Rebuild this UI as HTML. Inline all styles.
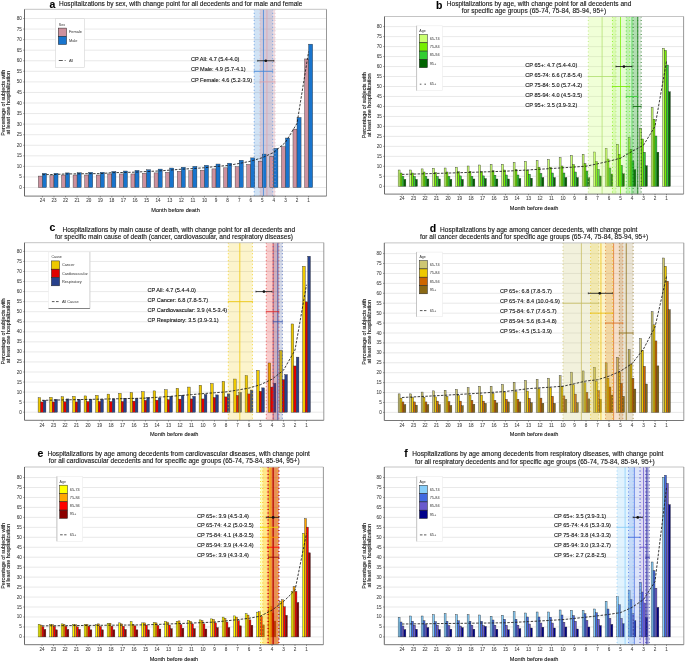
<!DOCTYPE html>
<html><head><meta charset="utf-8"><style>
html,body{margin:0;padding:0;background:#fff;width:685px;height:662px;overflow:hidden}
svg{display:block;will-change:transform}
text{font-family:"Liberation Sans", sans-serif;stroke:#222;stroke-width:0.12px}
</style></head><body>
<svg width="685" height="662" viewBox="0 0 685 662">
<rect width="685" height="662" fill="#fff"/>
<line x1="24.5" x2="326.5" y1="187.5" y2="187.5" stroke="#e3e3e3" stroke-width="0.8"/>
<line x1="24.5" x2="326.5" y1="176.94" y2="176.94" stroke="#e3e3e3" stroke-width="0.8"/>
<line x1="24.5" x2="326.5" y1="166.38" y2="166.38" stroke="#e3e3e3" stroke-width="0.8"/>
<line x1="24.5" x2="326.5" y1="155.81" y2="155.81" stroke="#e3e3e3" stroke-width="0.8"/>
<line x1="24.5" x2="326.5" y1="145.25" y2="145.25" stroke="#e3e3e3" stroke-width="0.8"/>
<line x1="24.5" x2="326.5" y1="134.69" y2="134.69" stroke="#e3e3e3" stroke-width="0.8"/>
<line x1="24.5" x2="326.5" y1="124.12" y2="124.12" stroke="#e3e3e3" stroke-width="0.8"/>
<line x1="24.5" x2="326.5" y1="113.56" y2="113.56" stroke="#e3e3e3" stroke-width="0.8"/>
<line x1="24.5" x2="326.5" y1="103" y2="103" stroke="#e3e3e3" stroke-width="0.8"/>
<line x1="24.5" x2="326.5" y1="92.44" y2="92.44" stroke="#e3e3e3" stroke-width="0.8"/>
<line x1="24.5" x2="326.5" y1="81.88" y2="81.88" stroke="#e3e3e3" stroke-width="0.8"/>
<line x1="24.5" x2="326.5" y1="71.31" y2="71.31" stroke="#e3e3e3" stroke-width="0.8"/>
<line x1="24.5" x2="326.5" y1="60.75" y2="60.75" stroke="#e3e3e3" stroke-width="0.8"/>
<line x1="24.5" x2="326.5" y1="50.19" y2="50.19" stroke="#e3e3e3" stroke-width="0.8"/>
<line x1="24.5" x2="326.5" y1="39.62" y2="39.62" stroke="#e3e3e3" stroke-width="0.8"/>
<line x1="24.5" x2="326.5" y1="29.06" y2="29.06" stroke="#e3e3e3" stroke-width="0.8"/>
<line x1="24.5" x2="326.5" y1="18.5" y2="18.5" stroke="#e3e3e3" stroke-width="0.8"/>
<rect x="254.2" y="9.3" width="18.52" height="186.8" fill="#1874cd" fill-opacity="0.2"/>
<rect x="259.99" y="9.3" width="15.05" height="186.8" fill="#cd919e" fill-opacity="0.3"/>
<rect x="38.35" y="176.07" width="4.05" height="11.43" fill="#cd919e" stroke="#2a2a2a" stroke-width="0.38"/>
<rect x="42.4" y="173.32" width="4.05" height="14.18" fill="#1874cd" stroke="#2a2a2a" stroke-width="0.38"/>
<rect x="49.92" y="175.65" width="4.05" height="11.85" fill="#cd919e" stroke="#2a2a2a" stroke-width="0.38"/>
<rect x="53.97" y="173.32" width="4.05" height="14.18" fill="#1874cd" stroke="#2a2a2a" stroke-width="0.38"/>
<rect x="61.5" y="175.02" width="4.05" height="12.48" fill="#cd919e" stroke="#2a2a2a" stroke-width="0.38"/>
<rect x="65.55" y="172.9" width="4.05" height="14.6" fill="#1874cd" stroke="#2a2a2a" stroke-width="0.38"/>
<rect x="73.07" y="175.02" width="4.05" height="12.48" fill="#cd919e" stroke="#2a2a2a" stroke-width="0.38"/>
<rect x="77.12" y="172.69" width="4.05" height="14.81" fill="#1874cd" stroke="#2a2a2a" stroke-width="0.38"/>
<rect x="84.65" y="175.02" width="4.05" height="12.48" fill="#cd919e" stroke="#2a2a2a" stroke-width="0.38"/>
<rect x="88.7" y="172.27" width="4.05" height="15.23" fill="#1874cd" stroke="#2a2a2a" stroke-width="0.38"/>
<rect x="96.22" y="175.02" width="4.05" height="12.48" fill="#cd919e" stroke="#2a2a2a" stroke-width="0.38"/>
<rect x="100.27" y="172.27" width="4.05" height="15.23" fill="#1874cd" stroke="#2a2a2a" stroke-width="0.38"/>
<rect x="107.79" y="173.96" width="4.05" height="13.54" fill="#cd919e" stroke="#2a2a2a" stroke-width="0.38"/>
<rect x="111.84" y="171.42" width="4.05" height="16.08" fill="#1874cd" stroke="#2a2a2a" stroke-width="0.38"/>
<rect x="119.37" y="173.96" width="4.05" height="13.54" fill="#cd919e" stroke="#2a2a2a" stroke-width="0.38"/>
<rect x="123.42" y="171" width="4.05" height="16.5" fill="#1874cd" stroke="#2a2a2a" stroke-width="0.38"/>
<rect x="130.94" y="173.96" width="4.05" height="13.54" fill="#cd919e" stroke="#2a2a2a" stroke-width="0.38"/>
<rect x="134.99" y="170.37" width="4.05" height="17.13" fill="#1874cd" stroke="#2a2a2a" stroke-width="0.38"/>
<rect x="142.52" y="173.32" width="4.05" height="14.18" fill="#cd919e" stroke="#2a2a2a" stroke-width="0.38"/>
<rect x="146.57" y="169.73" width="4.05" height="17.77" fill="#1874cd" stroke="#2a2a2a" stroke-width="0.38"/>
<rect x="154.09" y="172.9" width="4.05" height="14.6" fill="#cd919e" stroke="#2a2a2a" stroke-width="0.38"/>
<rect x="158.14" y="169.1" width="4.05" height="18.4" fill="#1874cd" stroke="#2a2a2a" stroke-width="0.38"/>
<rect x="165.66" y="172.27" width="4.05" height="15.23" fill="#cd919e" stroke="#2a2a2a" stroke-width="0.38"/>
<rect x="169.71" y="168.04" width="4.05" height="19.46" fill="#1874cd" stroke="#2a2a2a" stroke-width="0.38"/>
<rect x="177.24" y="171.21" width="4.05" height="16.29" fill="#cd919e" stroke="#2a2a2a" stroke-width="0.38"/>
<rect x="181.29" y="167.19" width="4.05" height="20.31" fill="#1874cd" stroke="#2a2a2a" stroke-width="0.38"/>
<rect x="188.81" y="170.79" width="4.05" height="16.71" fill="#cd919e" stroke="#2a2a2a" stroke-width="0.38"/>
<rect x="192.86" y="166.35" width="4.05" height="21.15" fill="#1874cd" stroke="#2a2a2a" stroke-width="0.38"/>
<rect x="200.39" y="170.15" width="4.05" height="17.35" fill="#cd919e" stroke="#2a2a2a" stroke-width="0.38"/>
<rect x="204.44" y="165.29" width="4.05" height="22.21" fill="#1874cd" stroke="#2a2a2a" stroke-width="0.38"/>
<rect x="211.96" y="168.89" width="4.05" height="18.61" fill="#cd919e" stroke="#2a2a2a" stroke-width="0.38"/>
<rect x="216.01" y="164.02" width="4.05" height="23.48" fill="#1874cd" stroke="#2a2a2a" stroke-width="0.38"/>
<rect x="223.53" y="167.83" width="4.05" height="19.67" fill="#cd919e" stroke="#2a2a2a" stroke-width="0.38"/>
<rect x="227.58" y="163.18" width="4.05" height="24.32" fill="#1874cd" stroke="#2a2a2a" stroke-width="0.38"/>
<rect x="235.11" y="166.77" width="4.05" height="20.73" fill="#cd919e" stroke="#2a2a2a" stroke-width="0.38"/>
<rect x="239.16" y="160.22" width="4.05" height="27.28" fill="#1874cd" stroke="#2a2a2a" stroke-width="0.38"/>
<rect x="246.68" y="164.45" width="4.05" height="23.05" fill="#cd919e" stroke="#2a2a2a" stroke-width="0.38"/>
<rect x="250.73" y="157.89" width="4.05" height="29.61" fill="#1874cd" stroke="#2a2a2a" stroke-width="0.38"/>
<rect x="258.26" y="161.27" width="4.05" height="26.23" fill="#cd919e" stroke="#2a2a2a" stroke-width="0.38"/>
<rect x="262.31" y="154.09" width="4.05" height="33.41" fill="#1874cd" stroke="#2a2a2a" stroke-width="0.38"/>
<rect x="269.83" y="156.2" width="4.05" height="31.3" fill="#cd919e" stroke="#2a2a2a" stroke-width="0.38"/>
<rect x="273.88" y="148.38" width="4.05" height="39.12" fill="#1874cd" stroke="#2a2a2a" stroke-width="0.38"/>
<rect x="281.4" y="146.69" width="4.05" height="40.81" fill="#cd919e" stroke="#2a2a2a" stroke-width="0.38"/>
<rect x="285.45" y="138.02" width="4.05" height="49.48" fill="#1874cd" stroke="#2a2a2a" stroke-width="0.38"/>
<rect x="292.98" y="129.14" width="4.05" height="58.36" fill="#cd919e" stroke="#2a2a2a" stroke-width="0.38"/>
<rect x="297.03" y="117.52" width="4.05" height="69.98" fill="#1874cd" stroke="#2a2a2a" stroke-width="0.38"/>
<rect x="304.55" y="58.96" width="4.05" height="128.54" fill="#cd919e" stroke="#2a2a2a" stroke-width="0.38"/>
<rect x="308.6" y="44.16" width="4.05" height="143.34" fill="#1874cd" stroke="#2a2a2a" stroke-width="0.38"/>
<line x1="254.2" x2="254.2" y1="9.3" y2="196.1" stroke="#3c84dc" stroke-width="0.75" stroke-dasharray="1 2.5"/>
<line x1="272.72" x2="272.72" y1="9.3" y2="196.1" stroke="#3c84dc" stroke-width="0.75" stroke-dasharray="1 2.5"/>
<line x1="263.46" x2="263.46" y1="9.3" y2="196.1" stroke="#3c84dc" stroke-width="0.9" stroke-opacity="0.85"/>
<line x1="259.99" x2="259.99" y1="9.3" y2="196.1" stroke="#e0a4ad" stroke-width="0.75" stroke-dasharray="1 2.5"/>
<line x1="275.04" x2="275.04" y1="9.3" y2="196.1" stroke="#e0a4ad" stroke-width="0.75" stroke-dasharray="1 2.5"/>
<line x1="266.94" x2="266.94" y1="9.3" y2="196.1" stroke="#e0a4ad" stroke-width="0.9" stroke-opacity="0.85"/>
<polyline points="42.4,174.7 53.97,174.49 65.55,173.96 77.12,173.85 88.7,173.64 100.27,173.64 111.84,172.69 123.42,172.48 134.99,172.16 146.57,171.53 158.14,171 169.71,170.15 181.29,169.2 192.86,168.57 204.44,167.72 216.01,166.45 227.58,165.5 239.16,163.49 250.73,161.17 262.31,157.68 273.88,152.29 285.45,142.35 297.03,123.33 308.6,51.56" fill="none" stroke="#1a1a1a" stroke-width="0.85" stroke-dasharray="2.5 1.4"/>
<text x="190.9" y="60.9" font-size="5.57" fill="#111">CP All: 4.7 (5.4-4.0)</text>
<line x1="257.68" x2="273.88" y1="60.75" y2="60.75" stroke="#111" stroke-width="0.8"/>
<line x1="257.68" x2="257.68" y1="59.85" y2="61.65" stroke="#111" stroke-width="0.6"/>
<line x1="273.88" x2="273.88" y1="59.85" y2="61.65" stroke="#111" stroke-width="0.6"/>
<circle cx="265.78" cy="60.75" r="1.35" fill="#111"/>
<text x="190.9" y="71.46" font-size="5.57" fill="#111">CP Male: 4.9 (5.7-4.1)</text>
<line x1="254.2" x2="272.72" y1="71.31" y2="71.31" stroke="#3c84dc" stroke-width="0.8"/>
<line x1="254.2" x2="254.2" y1="70.41" y2="72.21" stroke="#3c84dc" stroke-width="0.6"/>
<line x1="272.72" x2="272.72" y1="70.41" y2="72.21" stroke="#3c84dc" stroke-width="0.6"/>
<text x="190.9" y="82.03" font-size="5.57" fill="#111">CP Female: 4.6 (5.2-3.9)</text>
<line x1="259.99" x2="275.04" y1="81.88" y2="81.88" stroke="#e0a4ad" stroke-width="0.8"/>
<line x1="259.99" x2="259.99" y1="80.98" y2="82.78" stroke="#e0a4ad" stroke-width="0.6"/>
<line x1="275.04" x2="275.04" y1="80.98" y2="82.78" stroke="#e0a4ad" stroke-width="0.6"/>
<line x1="24.5" x2="326.5" y1="9.3" y2="9.3" stroke="#bdbdbd" stroke-width="0.9"/>
<line x1="326.5" x2="326.5" y1="9.3" y2="196.1" stroke="#8c8c8c" stroke-width="0.9"/>
<line x1="24.5" x2="24.5" y1="9.3" y2="196.1" stroke="#555" stroke-width="0.9"/>
<line x1="24.5" x2="326.5" y1="196.1" y2="196.1" stroke="#666" stroke-width="0.9"/>
<line x1="23.3" x2="24.5" y1="187.5" y2="187.5" stroke="#444" stroke-width="0.6"/>
<text x="21.9" y="189" font-size="4.6" text-anchor="end" fill="#3a3a3a" style="stroke:#555;stroke-width:0.06px">0</text>
<line x1="23.3" x2="24.5" y1="176.94" y2="176.94" stroke="#444" stroke-width="0.6"/>
<text x="21.9" y="178.44" font-size="4.6" text-anchor="end" fill="#3a3a3a" style="stroke:#555;stroke-width:0.06px">5</text>
<line x1="23.3" x2="24.5" y1="166.38" y2="166.38" stroke="#444" stroke-width="0.6"/>
<text x="21.9" y="167.88" font-size="4.6" text-anchor="end" fill="#3a3a3a" style="stroke:#555;stroke-width:0.06px">10</text>
<line x1="23.3" x2="24.5" y1="155.81" y2="155.81" stroke="#444" stroke-width="0.6"/>
<text x="21.9" y="157.31" font-size="4.6" text-anchor="end" fill="#3a3a3a" style="stroke:#555;stroke-width:0.06px">15</text>
<line x1="23.3" x2="24.5" y1="145.25" y2="145.25" stroke="#444" stroke-width="0.6"/>
<text x="21.9" y="146.75" font-size="4.6" text-anchor="end" fill="#3a3a3a" style="stroke:#555;stroke-width:0.06px">20</text>
<line x1="23.3" x2="24.5" y1="134.69" y2="134.69" stroke="#444" stroke-width="0.6"/>
<text x="21.9" y="136.19" font-size="4.6" text-anchor="end" fill="#3a3a3a" style="stroke:#555;stroke-width:0.06px">25</text>
<line x1="23.3" x2="24.5" y1="124.12" y2="124.12" stroke="#444" stroke-width="0.6"/>
<text x="21.9" y="125.62" font-size="4.6" text-anchor="end" fill="#3a3a3a" style="stroke:#555;stroke-width:0.06px">30</text>
<line x1="23.3" x2="24.5" y1="113.56" y2="113.56" stroke="#444" stroke-width="0.6"/>
<text x="21.9" y="115.06" font-size="4.6" text-anchor="end" fill="#3a3a3a" style="stroke:#555;stroke-width:0.06px">35</text>
<line x1="23.3" x2="24.5" y1="103" y2="103" stroke="#444" stroke-width="0.6"/>
<text x="21.9" y="104.5" font-size="4.6" text-anchor="end" fill="#3a3a3a" style="stroke:#555;stroke-width:0.06px">40</text>
<line x1="23.3" x2="24.5" y1="92.44" y2="92.44" stroke="#444" stroke-width="0.6"/>
<text x="21.9" y="93.94" font-size="4.6" text-anchor="end" fill="#3a3a3a" style="stroke:#555;stroke-width:0.06px">45</text>
<line x1="23.3" x2="24.5" y1="81.88" y2="81.88" stroke="#444" stroke-width="0.6"/>
<text x="21.9" y="83.38" font-size="4.6" text-anchor="end" fill="#3a3a3a" style="stroke:#555;stroke-width:0.06px">50</text>
<line x1="23.3" x2="24.5" y1="71.31" y2="71.31" stroke="#444" stroke-width="0.6"/>
<text x="21.9" y="72.81" font-size="4.6" text-anchor="end" fill="#3a3a3a" style="stroke:#555;stroke-width:0.06px">55</text>
<line x1="23.3" x2="24.5" y1="60.75" y2="60.75" stroke="#444" stroke-width="0.6"/>
<text x="21.9" y="62.25" font-size="4.6" text-anchor="end" fill="#3a3a3a" style="stroke:#555;stroke-width:0.06px">60</text>
<line x1="23.3" x2="24.5" y1="50.19" y2="50.19" stroke="#444" stroke-width="0.6"/>
<text x="21.9" y="51.69" font-size="4.6" text-anchor="end" fill="#3a3a3a" style="stroke:#555;stroke-width:0.06px">65</text>
<line x1="23.3" x2="24.5" y1="39.62" y2="39.62" stroke="#444" stroke-width="0.6"/>
<text x="21.9" y="41.12" font-size="4.6" text-anchor="end" fill="#3a3a3a" style="stroke:#555;stroke-width:0.06px">70</text>
<line x1="23.3" x2="24.5" y1="29.06" y2="29.06" stroke="#444" stroke-width="0.6"/>
<text x="21.9" y="30.56" font-size="4.6" text-anchor="end" fill="#3a3a3a" style="stroke:#555;stroke-width:0.06px">75</text>
<line x1="23.3" x2="24.5" y1="18.5" y2="18.5" stroke="#444" stroke-width="0.6"/>
<text x="21.9" y="20" font-size="4.6" text-anchor="end" fill="#3a3a3a" style="stroke:#555;stroke-width:0.06px">80</text>
<line x1="42.4" x2="42.4" y1="196.1" y2="197.3" stroke="#444" stroke-width="0.6"/>
<text x="42.4" y="202.4" font-size="4.6" text-anchor="middle" fill="#3a3a3a" style="stroke:#555;stroke-width:0.06px">24</text>
<line x1="53.97" x2="53.97" y1="196.1" y2="197.3" stroke="#444" stroke-width="0.6"/>
<text x="53.97" y="202.4" font-size="4.6" text-anchor="middle" fill="#3a3a3a" style="stroke:#555;stroke-width:0.06px">23</text>
<line x1="65.55" x2="65.55" y1="196.1" y2="197.3" stroke="#444" stroke-width="0.6"/>
<text x="65.55" y="202.4" font-size="4.6" text-anchor="middle" fill="#3a3a3a" style="stroke:#555;stroke-width:0.06px">22</text>
<line x1="77.12" x2="77.12" y1="196.1" y2="197.3" stroke="#444" stroke-width="0.6"/>
<text x="77.12" y="202.4" font-size="4.6" text-anchor="middle" fill="#3a3a3a" style="stroke:#555;stroke-width:0.06px">21</text>
<line x1="88.7" x2="88.7" y1="196.1" y2="197.3" stroke="#444" stroke-width="0.6"/>
<text x="88.7" y="202.4" font-size="4.6" text-anchor="middle" fill="#3a3a3a" style="stroke:#555;stroke-width:0.06px">20</text>
<line x1="100.27" x2="100.27" y1="196.1" y2="197.3" stroke="#444" stroke-width="0.6"/>
<text x="100.27" y="202.4" font-size="4.6" text-anchor="middle" fill="#3a3a3a" style="stroke:#555;stroke-width:0.06px">19</text>
<line x1="111.84" x2="111.84" y1="196.1" y2="197.3" stroke="#444" stroke-width="0.6"/>
<text x="111.84" y="202.4" font-size="4.6" text-anchor="middle" fill="#3a3a3a" style="stroke:#555;stroke-width:0.06px">18</text>
<line x1="123.42" x2="123.42" y1="196.1" y2="197.3" stroke="#444" stroke-width="0.6"/>
<text x="123.42" y="202.4" font-size="4.6" text-anchor="middle" fill="#3a3a3a" style="stroke:#555;stroke-width:0.06px">17</text>
<line x1="134.99" x2="134.99" y1="196.1" y2="197.3" stroke="#444" stroke-width="0.6"/>
<text x="134.99" y="202.4" font-size="4.6" text-anchor="middle" fill="#3a3a3a" style="stroke:#555;stroke-width:0.06px">16</text>
<line x1="146.57" x2="146.57" y1="196.1" y2="197.3" stroke="#444" stroke-width="0.6"/>
<text x="146.57" y="202.4" font-size="4.6" text-anchor="middle" fill="#3a3a3a" style="stroke:#555;stroke-width:0.06px">15</text>
<line x1="158.14" x2="158.14" y1="196.1" y2="197.3" stroke="#444" stroke-width="0.6"/>
<text x="158.14" y="202.4" font-size="4.6" text-anchor="middle" fill="#3a3a3a" style="stroke:#555;stroke-width:0.06px">14</text>
<line x1="169.71" x2="169.71" y1="196.1" y2="197.3" stroke="#444" stroke-width="0.6"/>
<text x="169.71" y="202.4" font-size="4.6" text-anchor="middle" fill="#3a3a3a" style="stroke:#555;stroke-width:0.06px">13</text>
<line x1="181.29" x2="181.29" y1="196.1" y2="197.3" stroke="#444" stroke-width="0.6"/>
<text x="181.29" y="202.4" font-size="4.6" text-anchor="middle" fill="#3a3a3a" style="stroke:#555;stroke-width:0.06px">12</text>
<line x1="192.86" x2="192.86" y1="196.1" y2="197.3" stroke="#444" stroke-width="0.6"/>
<text x="192.86" y="202.4" font-size="4.6" text-anchor="middle" fill="#3a3a3a" style="stroke:#555;stroke-width:0.06px">11</text>
<line x1="204.44" x2="204.44" y1="196.1" y2="197.3" stroke="#444" stroke-width="0.6"/>
<text x="204.44" y="202.4" font-size="4.6" text-anchor="middle" fill="#3a3a3a" style="stroke:#555;stroke-width:0.06px">10</text>
<line x1="216.01" x2="216.01" y1="196.1" y2="197.3" stroke="#444" stroke-width="0.6"/>
<text x="216.01" y="202.4" font-size="4.6" text-anchor="middle" fill="#3a3a3a" style="stroke:#555;stroke-width:0.06px">9</text>
<line x1="227.58" x2="227.58" y1="196.1" y2="197.3" stroke="#444" stroke-width="0.6"/>
<text x="227.58" y="202.4" font-size="4.6" text-anchor="middle" fill="#3a3a3a" style="stroke:#555;stroke-width:0.06px">8</text>
<line x1="239.16" x2="239.16" y1="196.1" y2="197.3" stroke="#444" stroke-width="0.6"/>
<text x="239.16" y="202.4" font-size="4.6" text-anchor="middle" fill="#3a3a3a" style="stroke:#555;stroke-width:0.06px">7</text>
<line x1="250.73" x2="250.73" y1="196.1" y2="197.3" stroke="#444" stroke-width="0.6"/>
<text x="250.73" y="202.4" font-size="4.6" text-anchor="middle" fill="#3a3a3a" style="stroke:#555;stroke-width:0.06px">6</text>
<line x1="262.31" x2="262.31" y1="196.1" y2="197.3" stroke="#444" stroke-width="0.6"/>
<text x="262.31" y="202.4" font-size="4.6" text-anchor="middle" fill="#3a3a3a" style="stroke:#555;stroke-width:0.06px">5</text>
<line x1="273.88" x2="273.88" y1="196.1" y2="197.3" stroke="#444" stroke-width="0.6"/>
<text x="273.88" y="202.4" font-size="4.6" text-anchor="middle" fill="#3a3a3a" style="stroke:#555;stroke-width:0.06px">4</text>
<line x1="285.45" x2="285.45" y1="196.1" y2="197.3" stroke="#444" stroke-width="0.6"/>
<text x="285.45" y="202.4" font-size="4.6" text-anchor="middle" fill="#3a3a3a" style="stroke:#555;stroke-width:0.06px">3</text>
<line x1="297.03" x2="297.03" y1="196.1" y2="197.3" stroke="#444" stroke-width="0.6"/>
<text x="297.03" y="202.4" font-size="4.6" text-anchor="middle" fill="#3a3a3a" style="stroke:#555;stroke-width:0.06px">2</text>
<line x1="308.6" x2="308.6" y1="196.1" y2="197.3" stroke="#444" stroke-width="0.6"/>
<text x="308.6" y="202.4" font-size="4.6" text-anchor="middle" fill="#3a3a3a" style="stroke:#555;stroke-width:0.06px">1</text>
<text x="175.5" y="211.9" font-size="5.6" text-anchor="middle" fill="#222">Month before death</text>
<text transform="translate(4.6,102.7) rotate(-90)" font-size="5.4" text-anchor="middle" fill="#222"><tspan x="0" y="0">Percentage of subjects with</tspan><tspan x="0" y="5.8">at least one hospitalization</tspan></text>
<text x="59" y="6.1" font-size="6.55" fill="#111">Hospitalizations by sex, with change point for all decedents and for male and female</text>
<text x="49.6" y="7.6" font-size="10.5" font-weight="bold" fill="#000">a</text>
<rect x="55.6" y="18.7" width="28.9" height="48.8" fill="#fff" stroke="#d4d4d4" stroke-width="0.6"/>
<text x="58.8" y="25.9" font-size="3.6" fill="#333" style="stroke:none">Sex</text>
<rect x="58.3" y="28.1" width="8.3" height="8.2" fill="#cd919e" stroke="#222" stroke-width="0.5"/>
<text x="68.9" y="33.4" font-size="3.9" fill="#333" style="stroke:none">Female</text>
<rect x="58.3" y="36.3" width="8.3" height="8.2" fill="#1874cd" stroke="#222" stroke-width="0.5"/>
<text x="68.9" y="41.6" font-size="3.9" fill="#333" style="stroke:none">Male</text>
<line x1="58.8" x2="65.6" y1="60.5" y2="60.5" stroke="#111" stroke-width="0.7" stroke-dasharray="4 1.9 1.2 6"/>
<text x="68.9" y="61.7" font-size="3.9" fill="#333" style="stroke:none">All</text>
<line x1="384.5" x2="683.6" y1="186.3" y2="186.3" stroke="#e3e3e3" stroke-width="0.8"/>
<line x1="384.5" x2="683.6" y1="176.32" y2="176.32" stroke="#e3e3e3" stroke-width="0.8"/>
<line x1="384.5" x2="683.6" y1="166.34" y2="166.34" stroke="#e3e3e3" stroke-width="0.8"/>
<line x1="384.5" x2="683.6" y1="156.36" y2="156.36" stroke="#e3e3e3" stroke-width="0.8"/>
<line x1="384.5" x2="683.6" y1="146.38" y2="146.38" stroke="#e3e3e3" stroke-width="0.8"/>
<line x1="384.5" x2="683.6" y1="136.4" y2="136.4" stroke="#e3e3e3" stroke-width="0.8"/>
<line x1="384.5" x2="683.6" y1="126.42" y2="126.42" stroke="#e3e3e3" stroke-width="0.8"/>
<line x1="384.5" x2="683.6" y1="116.44" y2="116.44" stroke="#e3e3e3" stroke-width="0.8"/>
<line x1="384.5" x2="683.6" y1="106.46" y2="106.46" stroke="#e3e3e3" stroke-width="0.8"/>
<line x1="384.5" x2="683.6" y1="96.48" y2="96.48" stroke="#e3e3e3" stroke-width="0.8"/>
<line x1="384.5" x2="683.6" y1="86.5" y2="86.5" stroke="#e3e3e3" stroke-width="0.8"/>
<line x1="384.5" x2="683.6" y1="76.52" y2="76.52" stroke="#e3e3e3" stroke-width="0.8"/>
<line x1="384.5" x2="683.6" y1="66.54" y2="66.54" stroke="#e3e3e3" stroke-width="0.8"/>
<line x1="384.5" x2="683.6" y1="56.56" y2="56.56" stroke="#e3e3e3" stroke-width="0.8"/>
<line x1="384.5" x2="683.6" y1="46.58" y2="46.58" stroke="#e3e3e3" stroke-width="0.8"/>
<line x1="384.5" x2="683.6" y1="36.6" y2="36.6" stroke="#e3e3e3" stroke-width="0.8"/>
<line x1="384.5" x2="683.6" y1="26.62" y2="26.62" stroke="#e3e3e3" stroke-width="0.8"/>
<rect x="398.15" y="170" width="1.93" height="16.3" fill="#caff70" stroke="#2a2a2a" stroke-width="0.38"/>
<rect x="400.07" y="173" width="1.93" height="13.3" fill="#76ee00" stroke="#2a2a2a" stroke-width="0.38"/>
<rect x="402" y="176.4" width="1.93" height="9.9" fill="#32cd32" stroke="#2a2a2a" stroke-width="0.38"/>
<rect x="403.92" y="179.4" width="1.93" height="6.9" fill="#006400" stroke="#2a2a2a" stroke-width="0.38"/>
<rect x="409.65" y="170" width="1.93" height="16.3" fill="#caff70" stroke="#2a2a2a" stroke-width="0.38"/>
<rect x="411.57" y="173" width="1.93" height="13.3" fill="#76ee00" stroke="#2a2a2a" stroke-width="0.38"/>
<rect x="413.5" y="176.4" width="1.93" height="9.9" fill="#32cd32" stroke="#2a2a2a" stroke-width="0.38"/>
<rect x="415.42" y="179.4" width="1.93" height="6.9" fill="#006400" stroke="#2a2a2a" stroke-width="0.38"/>
<rect x="421.15" y="168.9" width="1.93" height="17.4" fill="#caff70" stroke="#2a2a2a" stroke-width="0.38"/>
<rect x="423.07" y="172" width="1.93" height="14.3" fill="#76ee00" stroke="#2a2a2a" stroke-width="0.38"/>
<rect x="425" y="176.4" width="1.93" height="9.9" fill="#32cd32" stroke="#2a2a2a" stroke-width="0.38"/>
<rect x="426.92" y="179" width="1.93" height="7.3" fill="#006400" stroke="#2a2a2a" stroke-width="0.38"/>
<rect x="432.65" y="168.2" width="1.93" height="18.1" fill="#caff70" stroke="#2a2a2a" stroke-width="0.38"/>
<rect x="434.57" y="172.4" width="1.93" height="13.9" fill="#76ee00" stroke="#2a2a2a" stroke-width="0.38"/>
<rect x="436.5" y="176.4" width="1.93" height="9.9" fill="#32cd32" stroke="#2a2a2a" stroke-width="0.38"/>
<rect x="438.42" y="179" width="1.93" height="7.3" fill="#006400" stroke="#2a2a2a" stroke-width="0.38"/>
<rect x="444.15" y="168" width="1.93" height="18.3" fill="#caff70" stroke="#2a2a2a" stroke-width="0.38"/>
<rect x="446.07" y="172" width="1.93" height="14.3" fill="#76ee00" stroke="#2a2a2a" stroke-width="0.38"/>
<rect x="448" y="176.4" width="1.93" height="9.9" fill="#32cd32" stroke="#2a2a2a" stroke-width="0.38"/>
<rect x="449.92" y="179.4" width="1.93" height="6.9" fill="#006400" stroke="#2a2a2a" stroke-width="0.38"/>
<rect x="455.65" y="167.2" width="1.93" height="19.1" fill="#caff70" stroke="#2a2a2a" stroke-width="0.38"/>
<rect x="457.57" y="171.6" width="1.93" height="14.7" fill="#76ee00" stroke="#2a2a2a" stroke-width="0.38"/>
<rect x="459.5" y="175.9" width="1.93" height="10.4" fill="#32cd32" stroke="#2a2a2a" stroke-width="0.38"/>
<rect x="461.42" y="179.4" width="1.93" height="6.9" fill="#006400" stroke="#2a2a2a" stroke-width="0.38"/>
<rect x="467.15" y="166" width="1.93" height="20.3" fill="#caff70" stroke="#2a2a2a" stroke-width="0.38"/>
<rect x="469.07" y="171.2" width="1.93" height="15.1" fill="#76ee00" stroke="#2a2a2a" stroke-width="0.38"/>
<rect x="471" y="176.4" width="1.93" height="9.9" fill="#32cd32" stroke="#2a2a2a" stroke-width="0.38"/>
<rect x="472.92" y="179" width="1.93" height="7.3" fill="#006400" stroke="#2a2a2a" stroke-width="0.38"/>
<rect x="478.65" y="165" width="1.93" height="21.3" fill="#caff70" stroke="#2a2a2a" stroke-width="0.38"/>
<rect x="480.57" y="171.6" width="1.93" height="14.7" fill="#76ee00" stroke="#2a2a2a" stroke-width="0.38"/>
<rect x="482.5" y="175.9" width="1.93" height="10.4" fill="#32cd32" stroke="#2a2a2a" stroke-width="0.38"/>
<rect x="484.42" y="178.6" width="1.93" height="7.7" fill="#006400" stroke="#2a2a2a" stroke-width="0.38"/>
<rect x="490.15" y="164.4" width="1.93" height="21.9" fill="#caff70" stroke="#2a2a2a" stroke-width="0.38"/>
<rect x="492.07" y="170.6" width="1.93" height="15.7" fill="#76ee00" stroke="#2a2a2a" stroke-width="0.38"/>
<rect x="494" y="175.2" width="1.93" height="11.1" fill="#32cd32" stroke="#2a2a2a" stroke-width="0.38"/>
<rect x="495.92" y="179" width="1.93" height="7.3" fill="#006400" stroke="#2a2a2a" stroke-width="0.38"/>
<rect x="501.65" y="164.2" width="1.93" height="22.1" fill="#caff70" stroke="#2a2a2a" stroke-width="0.38"/>
<rect x="503.57" y="170" width="1.93" height="16.3" fill="#76ee00" stroke="#2a2a2a" stroke-width="0.38"/>
<rect x="505.5" y="175" width="1.93" height="11.3" fill="#32cd32" stroke="#2a2a2a" stroke-width="0.38"/>
<rect x="507.42" y="179" width="1.93" height="7.3" fill="#006400" stroke="#2a2a2a" stroke-width="0.38"/>
<rect x="513.15" y="162.4" width="1.93" height="23.9" fill="#caff70" stroke="#2a2a2a" stroke-width="0.38"/>
<rect x="515.07" y="169.4" width="1.93" height="16.9" fill="#76ee00" stroke="#2a2a2a" stroke-width="0.38"/>
<rect x="517" y="175" width="1.93" height="11.3" fill="#32cd32" stroke="#2a2a2a" stroke-width="0.38"/>
<rect x="518.92" y="178.6" width="1.93" height="7.7" fill="#006400" stroke="#2a2a2a" stroke-width="0.38"/>
<rect x="524.65" y="161.2" width="1.93" height="25.1" fill="#caff70" stroke="#2a2a2a" stroke-width="0.38"/>
<rect x="526.57" y="170.2" width="1.93" height="16.1" fill="#76ee00" stroke="#2a2a2a" stroke-width="0.38"/>
<rect x="528.5" y="174.2" width="1.93" height="12.1" fill="#32cd32" stroke="#2a2a2a" stroke-width="0.38"/>
<rect x="530.42" y="178.2" width="1.93" height="8.1" fill="#006400" stroke="#2a2a2a" stroke-width="0.38"/>
<rect x="536.15" y="160.4" width="1.93" height="25.9" fill="#caff70" stroke="#2a2a2a" stroke-width="0.38"/>
<rect x="538.07" y="167.2" width="1.93" height="19.1" fill="#76ee00" stroke="#2a2a2a" stroke-width="0.38"/>
<rect x="540" y="173.4" width="1.93" height="12.9" fill="#32cd32" stroke="#2a2a2a" stroke-width="0.38"/>
<rect x="541.92" y="177.6" width="1.93" height="8.7" fill="#006400" stroke="#2a2a2a" stroke-width="0.38"/>
<rect x="547.65" y="159.4" width="1.93" height="26.9" fill="#caff70" stroke="#2a2a2a" stroke-width="0.38"/>
<rect x="549.57" y="167.2" width="1.93" height="19.1" fill="#76ee00" stroke="#2a2a2a" stroke-width="0.38"/>
<rect x="551.5" y="173" width="1.93" height="13.3" fill="#32cd32" stroke="#2a2a2a" stroke-width="0.38"/>
<rect x="553.42" y="177.6" width="1.93" height="8.7" fill="#006400" stroke="#2a2a2a" stroke-width="0.38"/>
<rect x="559.15" y="157.6" width="1.93" height="28.7" fill="#caff70" stroke="#2a2a2a" stroke-width="0.38"/>
<rect x="561.07" y="166" width="1.93" height="20.3" fill="#76ee00" stroke="#2a2a2a" stroke-width="0.38"/>
<rect x="563" y="173" width="1.93" height="13.3" fill="#32cd32" stroke="#2a2a2a" stroke-width="0.38"/>
<rect x="564.92" y="177.6" width="1.93" height="8.7" fill="#006400" stroke="#2a2a2a" stroke-width="0.38"/>
<rect x="570.65" y="155.4" width="1.93" height="30.9" fill="#caff70" stroke="#2a2a2a" stroke-width="0.38"/>
<rect x="572.57" y="164.6" width="1.93" height="21.7" fill="#76ee00" stroke="#2a2a2a" stroke-width="0.38"/>
<rect x="574.5" y="172" width="1.93" height="14.3" fill="#32cd32" stroke="#2a2a2a" stroke-width="0.38"/>
<rect x="576.42" y="177.6" width="1.93" height="8.7" fill="#006400" stroke="#2a2a2a" stroke-width="0.38"/>
<rect x="582.15" y="154.2" width="1.93" height="32.1" fill="#caff70" stroke="#2a2a2a" stroke-width="0.38"/>
<rect x="584.07" y="163.6" width="1.93" height="22.7" fill="#76ee00" stroke="#2a2a2a" stroke-width="0.38"/>
<rect x="586" y="171" width="1.93" height="15.3" fill="#32cd32" stroke="#2a2a2a" stroke-width="0.38"/>
<rect x="587.92" y="177.8" width="1.93" height="8.5" fill="#006400" stroke="#2a2a2a" stroke-width="0.38"/>
<rect x="593.65" y="152" width="1.93" height="34.3" fill="#caff70" stroke="#2a2a2a" stroke-width="0.38"/>
<rect x="595.57" y="161.6" width="1.93" height="24.7" fill="#76ee00" stroke="#2a2a2a" stroke-width="0.38"/>
<rect x="597.5" y="169.2" width="1.93" height="17.1" fill="#32cd32" stroke="#2a2a2a" stroke-width="0.38"/>
<rect x="599.42" y="176" width="1.93" height="10.3" fill="#006400" stroke="#2a2a2a" stroke-width="0.38"/>
<rect x="605.15" y="148.2" width="1.93" height="38.1" fill="#caff70" stroke="#2a2a2a" stroke-width="0.38"/>
<rect x="607.07" y="159" width="1.93" height="27.3" fill="#76ee00" stroke="#2a2a2a" stroke-width="0.38"/>
<rect x="609" y="168" width="1.93" height="18.3" fill="#32cd32" stroke="#2a2a2a" stroke-width="0.38"/>
<rect x="610.92" y="174" width="1.93" height="12.3" fill="#006400" stroke="#2a2a2a" stroke-width="0.38"/>
<rect x="616.65" y="144.2" width="1.93" height="42.1" fill="#caff70" stroke="#2a2a2a" stroke-width="0.38"/>
<rect x="618.57" y="154.4" width="1.93" height="31.9" fill="#76ee00" stroke="#2a2a2a" stroke-width="0.38"/>
<rect x="620.5" y="165.2" width="1.93" height="21.1" fill="#32cd32" stroke="#2a2a2a" stroke-width="0.38"/>
<rect x="622.42" y="173.8" width="1.93" height="12.5" fill="#006400" stroke="#2a2a2a" stroke-width="0.38"/>
<rect x="628.15" y="137.6" width="1.93" height="48.7" fill="#caff70" stroke="#2a2a2a" stroke-width="0.38"/>
<rect x="630.07" y="149.2" width="1.93" height="37.1" fill="#76ee00" stroke="#2a2a2a" stroke-width="0.38"/>
<rect x="632" y="161.2" width="1.93" height="25.1" fill="#32cd32" stroke="#2a2a2a" stroke-width="0.38"/>
<rect x="633.92" y="169.8" width="1.93" height="16.5" fill="#006400" stroke="#2a2a2a" stroke-width="0.38"/>
<rect x="639.65" y="128.4" width="1.93" height="57.9" fill="#caff70" stroke="#2a2a2a" stroke-width="0.38"/>
<rect x="641.57" y="139" width="1.93" height="47.3" fill="#76ee00" stroke="#2a2a2a" stroke-width="0.38"/>
<rect x="643.5" y="152.2" width="1.93" height="34.1" fill="#32cd32" stroke="#2a2a2a" stroke-width="0.38"/>
<rect x="645.42" y="165.8" width="1.93" height="20.5" fill="#006400" stroke="#2a2a2a" stroke-width="0.38"/>
<rect x="651.15" y="107.4" width="1.93" height="78.9" fill="#caff70" stroke="#2a2a2a" stroke-width="0.38"/>
<rect x="653.07" y="119.2" width="1.93" height="67.1" fill="#76ee00" stroke="#2a2a2a" stroke-width="0.38"/>
<rect x="655" y="136" width="1.93" height="50.3" fill="#32cd32" stroke="#2a2a2a" stroke-width="0.38"/>
<rect x="656.92" y="152.2" width="1.93" height="34.1" fill="#006400" stroke="#2a2a2a" stroke-width="0.38"/>
<rect x="662.65" y="48.2" width="1.93" height="138.1" fill="#caff70" stroke="#2a2a2a" stroke-width="0.38"/>
<rect x="664.57" y="50.4" width="1.93" height="135.9" fill="#76ee00" stroke="#2a2a2a" stroke-width="0.38"/>
<rect x="666.5" y="65" width="1.93" height="121.3" fill="#32cd32" stroke="#2a2a2a" stroke-width="0.38"/>
<rect x="668.42" y="91.8" width="1.93" height="94.5" fill="#006400" stroke="#2a2a2a" stroke-width="0.38"/>
<rect x="588.3" y="16.5" width="27.6" height="177.6" fill="#caff70" fill-opacity="0.28"/>
<rect x="612.45" y="16.5" width="17.25" height="177.6" fill="#76ee00" fill-opacity="0.18"/>
<rect x="626.25" y="16.5" width="11.5" height="177.6" fill="#32cd32" fill-opacity="0.22"/>
<rect x="633.15" y="16.5" width="8.05" height="177.6" fill="#006400" fill-opacity="0.15"/>
<line x1="588.3" x2="588.3" y1="16.5" y2="194.1" stroke="#b0e070" stroke-width="0.75" stroke-dasharray="1 2.5"/>
<line x1="615.9" x2="615.9" y1="16.5" y2="194.1" stroke="#b0e070" stroke-width="0.75" stroke-dasharray="1 2.5"/>
<line x1="602.1" x2="602.1" y1="16.5" y2="194.1" stroke="#b0e070" stroke-width="0.9" stroke-opacity="0.85"/>
<line x1="612.45" x2="612.45" y1="16.5" y2="194.1" stroke="#76ee00" stroke-width="0.75" stroke-dasharray="1 2.5"/>
<line x1="629.7" x2="629.7" y1="16.5" y2="194.1" stroke="#76ee00" stroke-width="0.75" stroke-dasharray="1 2.5"/>
<line x1="620.5" x2="620.5" y1="16.5" y2="194.1" stroke="#76ee00" stroke-width="0.9" stroke-opacity="0.85"/>
<line x1="626.25" x2="626.25" y1="16.5" y2="194.1" stroke="#32cd32" stroke-width="0.75" stroke-dasharray="1 2.5"/>
<line x1="637.75" x2="637.75" y1="16.5" y2="194.1" stroke="#32cd32" stroke-width="0.75" stroke-dasharray="1 2.5"/>
<line x1="632" x2="632" y1="16.5" y2="194.1" stroke="#32cd32" stroke-width="0.9" stroke-opacity="0.85"/>
<line x1="633.15" x2="633.15" y1="16.5" y2="194.1" stroke="#006400" stroke-width="0.75" stroke-dasharray="1 2.5"/>
<line x1="641.2" x2="641.2" y1="16.5" y2="194.1" stroke="#006400" stroke-width="0.75" stroke-dasharray="1 2.5"/>
<line x1="637.75" x2="637.75" y1="16.5" y2="194.1" stroke="#006400" stroke-width="0.9" stroke-opacity="0.85"/>
<polyline points="402,174.4 413.5,174.08 425,173.75 436.5,173.42 448,173.07 459.5,172.72 471,172.35 482.5,171.98 494,171.59 505.5,171.2 517,170.57 528.5,169.91 540,169.23 551.5,168.52 563,167.78 574.5,167 586,166.2 597.5,163.84 609,161.2 620.5,158.2 632,151.4 643.5,145.2 655,126.4 666.5,61.4" fill="none" stroke="#1a1a1a" stroke-width="0.85" stroke-dasharray="2.5 1.4"/>
<text x="525.3" y="66.69" font-size="5.57" fill="#111">CP 65+: 4.7 (5.4-4.0)</text>
<line x1="615.9" x2="632" y1="66.54" y2="66.54" stroke="#111" stroke-width="0.8"/>
<line x1="615.9" x2="615.9" y1="65.64" y2="67.44" stroke="#111" stroke-width="0.6"/>
<line x1="632" x2="632" y1="65.64" y2="67.44" stroke="#111" stroke-width="0.6"/>
<circle cx="623.95" cy="66.54" r="1.35" fill="#111"/>
<text x="525.3" y="76.67" font-size="5.57" fill="#111">CP 65-74: 6.6 (7.8-5.4)</text>
<line x1="588.3" x2="615.9" y1="76.52" y2="76.52" stroke="#b0e070" stroke-width="0.8"/>
<line x1="588.3" x2="588.3" y1="75.62" y2="77.42" stroke="#b0e070" stroke-width="0.6"/>
<line x1="615.9" x2="615.9" y1="75.62" y2="77.42" stroke="#b0e070" stroke-width="0.6"/>
<text x="525.3" y="86.65" font-size="5.57" fill="#111">CP 75-84: 5.0 (5.7-4.2)</text>
<line x1="612.45" x2="629.7" y1="86.5" y2="86.5" stroke="#76ee00" stroke-width="0.8"/>
<line x1="612.45" x2="612.45" y1="85.6" y2="87.4" stroke="#76ee00" stroke-width="0.6"/>
<line x1="629.7" x2="629.7" y1="85.6" y2="87.4" stroke="#76ee00" stroke-width="0.6"/>
<text x="525.3" y="96.63" font-size="5.57" fill="#111">CP 85-94: 4.0 (4.5-3.5)</text>
<line x1="626.25" x2="637.75" y1="96.48" y2="96.48" stroke="#32cd32" stroke-width="0.8"/>
<line x1="626.25" x2="626.25" y1="95.58" y2="97.38" stroke="#32cd32" stroke-width="0.6"/>
<line x1="637.75" x2="637.75" y1="95.58" y2="97.38" stroke="#32cd32" stroke-width="0.6"/>
<text x="525.3" y="106.61" font-size="5.57" fill="#111">CP 95+: 3.5 (3.9-3.2)</text>
<line x1="633.15" x2="641.2" y1="106.46" y2="106.46" stroke="#006400" stroke-width="0.8"/>
<line x1="633.15" x2="633.15" y1="105.56" y2="107.36" stroke="#006400" stroke-width="0.6"/>
<line x1="641.2" x2="641.2" y1="105.56" y2="107.36" stroke="#006400" stroke-width="0.6"/>
<line x1="384.5" x2="683.6" y1="16.5" y2="16.5" stroke="#bdbdbd" stroke-width="0.9"/>
<line x1="683.6" x2="683.6" y1="16.5" y2="194.1" stroke="#8c8c8c" stroke-width="0.9"/>
<line x1="384.5" x2="384.5" y1="16.5" y2="194.1" stroke="#555" stroke-width="0.9"/>
<line x1="384.5" x2="683.6" y1="194.1" y2="194.1" stroke="#666" stroke-width="0.9"/>
<line x1="383.3" x2="384.5" y1="186.3" y2="186.3" stroke="#444" stroke-width="0.6"/>
<text x="381.9" y="187.8" font-size="4.6" text-anchor="end" fill="#3a3a3a" style="stroke:#555;stroke-width:0.06px">0</text>
<line x1="383.3" x2="384.5" y1="176.32" y2="176.32" stroke="#444" stroke-width="0.6"/>
<text x="381.9" y="177.82" font-size="4.6" text-anchor="end" fill="#3a3a3a" style="stroke:#555;stroke-width:0.06px">5</text>
<line x1="383.3" x2="384.5" y1="166.34" y2="166.34" stroke="#444" stroke-width="0.6"/>
<text x="381.9" y="167.84" font-size="4.6" text-anchor="end" fill="#3a3a3a" style="stroke:#555;stroke-width:0.06px">10</text>
<line x1="383.3" x2="384.5" y1="156.36" y2="156.36" stroke="#444" stroke-width="0.6"/>
<text x="381.9" y="157.86" font-size="4.6" text-anchor="end" fill="#3a3a3a" style="stroke:#555;stroke-width:0.06px">15</text>
<line x1="383.3" x2="384.5" y1="146.38" y2="146.38" stroke="#444" stroke-width="0.6"/>
<text x="381.9" y="147.88" font-size="4.6" text-anchor="end" fill="#3a3a3a" style="stroke:#555;stroke-width:0.06px">20</text>
<line x1="383.3" x2="384.5" y1="136.4" y2="136.4" stroke="#444" stroke-width="0.6"/>
<text x="381.9" y="137.9" font-size="4.6" text-anchor="end" fill="#3a3a3a" style="stroke:#555;stroke-width:0.06px">25</text>
<line x1="383.3" x2="384.5" y1="126.42" y2="126.42" stroke="#444" stroke-width="0.6"/>
<text x="381.9" y="127.92" font-size="4.6" text-anchor="end" fill="#3a3a3a" style="stroke:#555;stroke-width:0.06px">30</text>
<line x1="383.3" x2="384.5" y1="116.44" y2="116.44" stroke="#444" stroke-width="0.6"/>
<text x="381.9" y="117.94" font-size="4.6" text-anchor="end" fill="#3a3a3a" style="stroke:#555;stroke-width:0.06px">35</text>
<line x1="383.3" x2="384.5" y1="106.46" y2="106.46" stroke="#444" stroke-width="0.6"/>
<text x="381.9" y="107.96" font-size="4.6" text-anchor="end" fill="#3a3a3a" style="stroke:#555;stroke-width:0.06px">40</text>
<line x1="383.3" x2="384.5" y1="96.48" y2="96.48" stroke="#444" stroke-width="0.6"/>
<text x="381.9" y="97.98" font-size="4.6" text-anchor="end" fill="#3a3a3a" style="stroke:#555;stroke-width:0.06px">45</text>
<line x1="383.3" x2="384.5" y1="86.5" y2="86.5" stroke="#444" stroke-width="0.6"/>
<text x="381.9" y="88" font-size="4.6" text-anchor="end" fill="#3a3a3a" style="stroke:#555;stroke-width:0.06px">50</text>
<line x1="383.3" x2="384.5" y1="76.52" y2="76.52" stroke="#444" stroke-width="0.6"/>
<text x="381.9" y="78.02" font-size="4.6" text-anchor="end" fill="#3a3a3a" style="stroke:#555;stroke-width:0.06px">55</text>
<line x1="383.3" x2="384.5" y1="66.54" y2="66.54" stroke="#444" stroke-width="0.6"/>
<text x="381.9" y="68.04" font-size="4.6" text-anchor="end" fill="#3a3a3a" style="stroke:#555;stroke-width:0.06px">60</text>
<line x1="383.3" x2="384.5" y1="56.56" y2="56.56" stroke="#444" stroke-width="0.6"/>
<text x="381.9" y="58.06" font-size="4.6" text-anchor="end" fill="#3a3a3a" style="stroke:#555;stroke-width:0.06px">65</text>
<line x1="383.3" x2="384.5" y1="46.58" y2="46.58" stroke="#444" stroke-width="0.6"/>
<text x="381.9" y="48.08" font-size="4.6" text-anchor="end" fill="#3a3a3a" style="stroke:#555;stroke-width:0.06px">70</text>
<line x1="383.3" x2="384.5" y1="36.6" y2="36.6" stroke="#444" stroke-width="0.6"/>
<text x="381.9" y="38.1" font-size="4.6" text-anchor="end" fill="#3a3a3a" style="stroke:#555;stroke-width:0.06px">75</text>
<line x1="383.3" x2="384.5" y1="26.62" y2="26.62" stroke="#444" stroke-width="0.6"/>
<text x="381.9" y="28.12" font-size="4.6" text-anchor="end" fill="#3a3a3a" style="stroke:#555;stroke-width:0.06px">80</text>
<line x1="402" x2="402" y1="194.1" y2="195.3" stroke="#444" stroke-width="0.6"/>
<text x="402" y="200.4" font-size="4.6" text-anchor="middle" fill="#3a3a3a" style="stroke:#555;stroke-width:0.06px">24</text>
<line x1="413.5" x2="413.5" y1="194.1" y2="195.3" stroke="#444" stroke-width="0.6"/>
<text x="413.5" y="200.4" font-size="4.6" text-anchor="middle" fill="#3a3a3a" style="stroke:#555;stroke-width:0.06px">23</text>
<line x1="425" x2="425" y1="194.1" y2="195.3" stroke="#444" stroke-width="0.6"/>
<text x="425" y="200.4" font-size="4.6" text-anchor="middle" fill="#3a3a3a" style="stroke:#555;stroke-width:0.06px">22</text>
<line x1="436.5" x2="436.5" y1="194.1" y2="195.3" stroke="#444" stroke-width="0.6"/>
<text x="436.5" y="200.4" font-size="4.6" text-anchor="middle" fill="#3a3a3a" style="stroke:#555;stroke-width:0.06px">21</text>
<line x1="448" x2="448" y1="194.1" y2="195.3" stroke="#444" stroke-width="0.6"/>
<text x="448" y="200.4" font-size="4.6" text-anchor="middle" fill="#3a3a3a" style="stroke:#555;stroke-width:0.06px">20</text>
<line x1="459.5" x2="459.5" y1="194.1" y2="195.3" stroke="#444" stroke-width="0.6"/>
<text x="459.5" y="200.4" font-size="4.6" text-anchor="middle" fill="#3a3a3a" style="stroke:#555;stroke-width:0.06px">19</text>
<line x1="471" x2="471" y1="194.1" y2="195.3" stroke="#444" stroke-width="0.6"/>
<text x="471" y="200.4" font-size="4.6" text-anchor="middle" fill="#3a3a3a" style="stroke:#555;stroke-width:0.06px">18</text>
<line x1="482.5" x2="482.5" y1="194.1" y2="195.3" stroke="#444" stroke-width="0.6"/>
<text x="482.5" y="200.4" font-size="4.6" text-anchor="middle" fill="#3a3a3a" style="stroke:#555;stroke-width:0.06px">17</text>
<line x1="494" x2="494" y1="194.1" y2="195.3" stroke="#444" stroke-width="0.6"/>
<text x="494" y="200.4" font-size="4.6" text-anchor="middle" fill="#3a3a3a" style="stroke:#555;stroke-width:0.06px">16</text>
<line x1="505.5" x2="505.5" y1="194.1" y2="195.3" stroke="#444" stroke-width="0.6"/>
<text x="505.5" y="200.4" font-size="4.6" text-anchor="middle" fill="#3a3a3a" style="stroke:#555;stroke-width:0.06px">15</text>
<line x1="517" x2="517" y1="194.1" y2="195.3" stroke="#444" stroke-width="0.6"/>
<text x="517" y="200.4" font-size="4.6" text-anchor="middle" fill="#3a3a3a" style="stroke:#555;stroke-width:0.06px">14</text>
<line x1="528.5" x2="528.5" y1="194.1" y2="195.3" stroke="#444" stroke-width="0.6"/>
<text x="528.5" y="200.4" font-size="4.6" text-anchor="middle" fill="#3a3a3a" style="stroke:#555;stroke-width:0.06px">13</text>
<line x1="540" x2="540" y1="194.1" y2="195.3" stroke="#444" stroke-width="0.6"/>
<text x="540" y="200.4" font-size="4.6" text-anchor="middle" fill="#3a3a3a" style="stroke:#555;stroke-width:0.06px">12</text>
<line x1="551.5" x2="551.5" y1="194.1" y2="195.3" stroke="#444" stroke-width="0.6"/>
<text x="551.5" y="200.4" font-size="4.6" text-anchor="middle" fill="#3a3a3a" style="stroke:#555;stroke-width:0.06px">11</text>
<line x1="563" x2="563" y1="194.1" y2="195.3" stroke="#444" stroke-width="0.6"/>
<text x="563" y="200.4" font-size="4.6" text-anchor="middle" fill="#3a3a3a" style="stroke:#555;stroke-width:0.06px">10</text>
<line x1="574.5" x2="574.5" y1="194.1" y2="195.3" stroke="#444" stroke-width="0.6"/>
<text x="574.5" y="200.4" font-size="4.6" text-anchor="middle" fill="#3a3a3a" style="stroke:#555;stroke-width:0.06px">9</text>
<line x1="586" x2="586" y1="194.1" y2="195.3" stroke="#444" stroke-width="0.6"/>
<text x="586" y="200.4" font-size="4.6" text-anchor="middle" fill="#3a3a3a" style="stroke:#555;stroke-width:0.06px">8</text>
<line x1="597.5" x2="597.5" y1="194.1" y2="195.3" stroke="#444" stroke-width="0.6"/>
<text x="597.5" y="200.4" font-size="4.6" text-anchor="middle" fill="#3a3a3a" style="stroke:#555;stroke-width:0.06px">7</text>
<line x1="609" x2="609" y1="194.1" y2="195.3" stroke="#444" stroke-width="0.6"/>
<text x="609" y="200.4" font-size="4.6" text-anchor="middle" fill="#3a3a3a" style="stroke:#555;stroke-width:0.06px">6</text>
<line x1="620.5" x2="620.5" y1="194.1" y2="195.3" stroke="#444" stroke-width="0.6"/>
<text x="620.5" y="200.4" font-size="4.6" text-anchor="middle" fill="#3a3a3a" style="stroke:#555;stroke-width:0.06px">5</text>
<line x1="632" x2="632" y1="194.1" y2="195.3" stroke="#444" stroke-width="0.6"/>
<text x="632" y="200.4" font-size="4.6" text-anchor="middle" fill="#3a3a3a" style="stroke:#555;stroke-width:0.06px">4</text>
<line x1="643.5" x2="643.5" y1="194.1" y2="195.3" stroke="#444" stroke-width="0.6"/>
<text x="643.5" y="200.4" font-size="4.6" text-anchor="middle" fill="#3a3a3a" style="stroke:#555;stroke-width:0.06px">3</text>
<line x1="655" x2="655" y1="194.1" y2="195.3" stroke="#444" stroke-width="0.6"/>
<text x="655" y="200.4" font-size="4.6" text-anchor="middle" fill="#3a3a3a" style="stroke:#555;stroke-width:0.06px">2</text>
<line x1="666.5" x2="666.5" y1="194.1" y2="195.3" stroke="#444" stroke-width="0.6"/>
<text x="666.5" y="200.4" font-size="4.6" text-anchor="middle" fill="#3a3a3a" style="stroke:#555;stroke-width:0.06px">1</text>
<text x="534.05" y="209.9" font-size="5.6" text-anchor="middle" fill="#222">Month before death</text>
<text transform="translate(365.5,105.3) rotate(-90)" font-size="5.4" text-anchor="middle" fill="#222"><tspan x="0" y="0">Percentage of subjects with</tspan><tspan x="0" y="5.8">at least one hospitalization</tspan></text>
<text x="446.8" y="5.8" font-size="6.55" fill="#111">Hospitalizations by age, with change point for all decedents and</text>
<text x="461.8" y="12.5" font-size="6.55" fill="#111">for specific age groups (65-74, 75-84, 85-94, 95+)</text>
<text x="436" y="8.8" font-size="10.5" font-weight="bold" fill="#000">b</text>
<rect x="416.6" y="25.8" width="25.8" height="64.8" fill="#fff" stroke="#ececec" stroke-width="0.6"/>
<line x1="416.6" x2="416.6" y1="25.8" y2="90.6" stroke="#b0b0b0" stroke-width="0.7"/>
<text x="419.3" y="32" font-size="3.6" fill="#333" style="stroke:none">Age</text>
<rect x="419.3" y="34.5" width="8.1" height="8.3" fill="#caff70" stroke="#222" stroke-width="0.5"/>
<text x="429.7" y="39.85" font-size="3.9" fill="#333" style="stroke:none">65-74</text>
<rect x="419.3" y="42.8" width="8.1" height="8.3" fill="#76ee00" stroke="#222" stroke-width="0.5"/>
<text x="429.7" y="48.15" font-size="3.9" fill="#333" style="stroke:none">75-84</text>
<rect x="419.3" y="51.1" width="8.1" height="8.3" fill="#32cd32" stroke="#222" stroke-width="0.5"/>
<text x="429.7" y="56.45" font-size="3.9" fill="#333" style="stroke:none">85-94</text>
<rect x="419.3" y="59.4" width="8.1" height="8.3" fill="#006400" stroke="#222" stroke-width="0.5"/>
<text x="429.7" y="64.75" font-size="3.9" fill="#333" style="stroke:none">95+</text>
<line x1="419.8" x2="426.4" y1="84.2" y2="84.2" stroke="#111" stroke-width="0.7" stroke-dasharray="1.6 3"/>
<text x="429.7" y="85.4" font-size="3.9" fill="#333" style="stroke:none">65+</text>
<line x1="24.5" x2="323.8" y1="412.2" y2="412.2" stroke="#e3e3e3" stroke-width="0.8"/>
<line x1="24.5" x2="323.8" y1="402.15" y2="402.15" stroke="#e3e3e3" stroke-width="0.8"/>
<line x1="24.5" x2="323.8" y1="392.1" y2="392.1" stroke="#e3e3e3" stroke-width="0.8"/>
<line x1="24.5" x2="323.8" y1="382.05" y2="382.05" stroke="#e3e3e3" stroke-width="0.8"/>
<line x1="24.5" x2="323.8" y1="372" y2="372" stroke="#e3e3e3" stroke-width="0.8"/>
<line x1="24.5" x2="323.8" y1="361.95" y2="361.95" stroke="#e3e3e3" stroke-width="0.8"/>
<line x1="24.5" x2="323.8" y1="351.9" y2="351.9" stroke="#e3e3e3" stroke-width="0.8"/>
<line x1="24.5" x2="323.8" y1="341.85" y2="341.85" stroke="#e3e3e3" stroke-width="0.8"/>
<line x1="24.5" x2="323.8" y1="331.8" y2="331.8" stroke="#e3e3e3" stroke-width="0.8"/>
<line x1="24.5" x2="323.8" y1="321.75" y2="321.75" stroke="#e3e3e3" stroke-width="0.8"/>
<line x1="24.5" x2="323.8" y1="311.7" y2="311.7" stroke="#e3e3e3" stroke-width="0.8"/>
<line x1="24.5" x2="323.8" y1="301.65" y2="301.65" stroke="#e3e3e3" stroke-width="0.8"/>
<line x1="24.5" x2="323.8" y1="291.6" y2="291.6" stroke="#e3e3e3" stroke-width="0.8"/>
<line x1="24.5" x2="323.8" y1="281.55" y2="281.55" stroke="#e3e3e3" stroke-width="0.8"/>
<line x1="24.5" x2="323.8" y1="271.5" y2="271.5" stroke="#e3e3e3" stroke-width="0.8"/>
<line x1="24.5" x2="323.8" y1="261.45" y2="261.45" stroke="#e3e3e3" stroke-width="0.8"/>
<line x1="24.5" x2="323.8" y1="251.4" y2="251.4" stroke="#e3e3e3" stroke-width="0.8"/>
<rect x="38.1" y="397.73" width="2.6" height="14.47" fill="#eec900" stroke="#2a2a2a" stroke-width="0.38"/>
<rect x="40.7" y="401.95" width="2.6" height="10.25" fill="#e00000" stroke="#2a2a2a" stroke-width="0.38"/>
<rect x="43.3" y="400.34" width="2.6" height="11.86" fill="#27408b" stroke="#2a2a2a" stroke-width="0.38"/>
<rect x="49.6" y="397.32" width="2.6" height="14.88" fill="#eec900" stroke="#2a2a2a" stroke-width="0.38"/>
<rect x="52.2" y="401.95" width="2.6" height="10.25" fill="#e00000" stroke="#2a2a2a" stroke-width="0.38"/>
<rect x="54.8" y="399.33" width="2.6" height="12.87" fill="#27408b" stroke="#2a2a2a" stroke-width="0.38"/>
<rect x="61.1" y="396.72" width="2.6" height="15.48" fill="#eec900" stroke="#2a2a2a" stroke-width="0.38"/>
<rect x="63.7" y="401.75" width="2.6" height="10.45" fill="#e00000" stroke="#2a2a2a" stroke-width="0.38"/>
<rect x="66.3" y="398.93" width="2.6" height="13.27" fill="#27408b" stroke="#2a2a2a" stroke-width="0.38"/>
<rect x="72.6" y="396.32" width="2.6" height="15.88" fill="#eec900" stroke="#2a2a2a" stroke-width="0.38"/>
<rect x="75.2" y="401.95" width="2.6" height="10.25" fill="#e00000" stroke="#2a2a2a" stroke-width="0.38"/>
<rect x="77.8" y="399.33" width="2.6" height="12.87" fill="#27408b" stroke="#2a2a2a" stroke-width="0.38"/>
<rect x="84.1" y="395.92" width="2.6" height="16.28" fill="#eec900" stroke="#2a2a2a" stroke-width="0.38"/>
<rect x="86.7" y="401.55" width="2.6" height="10.65" fill="#e00000" stroke="#2a2a2a" stroke-width="0.38"/>
<rect x="89.3" y="399.33" width="2.6" height="12.87" fill="#27408b" stroke="#2a2a2a" stroke-width="0.38"/>
<rect x="95.6" y="395.31" width="2.6" height="16.88" fill="#eec900" stroke="#2a2a2a" stroke-width="0.38"/>
<rect x="98.2" y="401.55" width="2.6" height="10.65" fill="#e00000" stroke="#2a2a2a" stroke-width="0.38"/>
<rect x="100.8" y="399.33" width="2.6" height="12.87" fill="#27408b" stroke="#2a2a2a" stroke-width="0.38"/>
<rect x="107.1" y="394.11" width="2.6" height="18.09" fill="#eec900" stroke="#2a2a2a" stroke-width="0.38"/>
<rect x="109.7" y="401.55" width="2.6" height="10.65" fill="#e00000" stroke="#2a2a2a" stroke-width="0.38"/>
<rect x="112.3" y="398.93" width="2.6" height="13.27" fill="#27408b" stroke="#2a2a2a" stroke-width="0.38"/>
<rect x="118.6" y="393.3" width="2.6" height="18.9" fill="#eec900" stroke="#2a2a2a" stroke-width="0.38"/>
<rect x="121.2" y="401.55" width="2.6" height="10.65" fill="#e00000" stroke="#2a2a2a" stroke-width="0.38"/>
<rect x="123.8" y="398.53" width="2.6" height="13.67" fill="#27408b" stroke="#2a2a2a" stroke-width="0.38"/>
<rect x="130.1" y="392.5" width="2.6" height="19.7" fill="#eec900" stroke="#2a2a2a" stroke-width="0.38"/>
<rect x="132.7" y="401.14" width="2.6" height="11.06" fill="#e00000" stroke="#2a2a2a" stroke-width="0.38"/>
<rect x="135.3" y="398.53" width="2.6" height="13.67" fill="#27408b" stroke="#2a2a2a" stroke-width="0.38"/>
<rect x="141.6" y="391.7" width="2.6" height="20.5" fill="#eec900" stroke="#2a2a2a" stroke-width="0.38"/>
<rect x="144.2" y="400.34" width="2.6" height="11.86" fill="#e00000" stroke="#2a2a2a" stroke-width="0.38"/>
<rect x="146.8" y="397.53" width="2.6" height="14.67" fill="#27408b" stroke="#2a2a2a" stroke-width="0.38"/>
<rect x="153.1" y="390.89" width="2.6" height="21.31" fill="#eec900" stroke="#2a2a2a" stroke-width="0.38"/>
<rect x="155.7" y="400.14" width="2.6" height="12.06" fill="#e00000" stroke="#2a2a2a" stroke-width="0.38"/>
<rect x="158.3" y="397.93" width="2.6" height="14.27" fill="#27408b" stroke="#2a2a2a" stroke-width="0.38"/>
<rect x="164.6" y="389.69" width="2.6" height="22.51" fill="#eec900" stroke="#2a2a2a" stroke-width="0.38"/>
<rect x="167.2" y="399.74" width="2.6" height="12.46" fill="#e00000" stroke="#2a2a2a" stroke-width="0.38"/>
<rect x="169.8" y="396.32" width="2.6" height="15.88" fill="#27408b" stroke="#2a2a2a" stroke-width="0.38"/>
<rect x="176.1" y="388.28" width="2.6" height="23.92" fill="#eec900" stroke="#2a2a2a" stroke-width="0.38"/>
<rect x="178.7" y="399.13" width="2.6" height="13.07" fill="#e00000" stroke="#2a2a2a" stroke-width="0.38"/>
<rect x="181.3" y="395.31" width="2.6" height="16.88" fill="#27408b" stroke="#2a2a2a" stroke-width="0.38"/>
<rect x="187.6" y="387.07" width="2.6" height="25.13" fill="#eec900" stroke="#2a2a2a" stroke-width="0.38"/>
<rect x="190.2" y="398.93" width="2.6" height="13.27" fill="#e00000" stroke="#2a2a2a" stroke-width="0.38"/>
<rect x="192.8" y="396.32" width="2.6" height="15.88" fill="#27408b" stroke="#2a2a2a" stroke-width="0.38"/>
<rect x="199.1" y="385.26" width="2.6" height="26.94" fill="#eec900" stroke="#2a2a2a" stroke-width="0.38"/>
<rect x="201.7" y="398.93" width="2.6" height="13.27" fill="#e00000" stroke="#2a2a2a" stroke-width="0.38"/>
<rect x="204.3" y="394.51" width="2.6" height="17.69" fill="#27408b" stroke="#2a2a2a" stroke-width="0.38"/>
<rect x="210.6" y="383.46" width="2.6" height="28.74" fill="#eec900" stroke="#2a2a2a" stroke-width="0.38"/>
<rect x="213.2" y="397.53" width="2.6" height="14.67" fill="#e00000" stroke="#2a2a2a" stroke-width="0.38"/>
<rect x="215.8" y="394.91" width="2.6" height="17.29" fill="#27408b" stroke="#2a2a2a" stroke-width="0.38"/>
<rect x="222.1" y="381.45" width="2.6" height="30.75" fill="#eec900" stroke="#2a2a2a" stroke-width="0.38"/>
<rect x="224.7" y="396.92" width="2.6" height="15.28" fill="#e00000" stroke="#2a2a2a" stroke-width="0.38"/>
<rect x="227.3" y="393.91" width="2.6" height="18.29" fill="#27408b" stroke="#2a2a2a" stroke-width="0.38"/>
<rect x="233.6" y="379.03" width="2.6" height="33.17" fill="#eec900" stroke="#2a2a2a" stroke-width="0.38"/>
<rect x="236.2" y="395.31" width="2.6" height="16.88" fill="#e00000" stroke="#2a2a2a" stroke-width="0.38"/>
<rect x="238.8" y="392.3" width="2.6" height="19.9" fill="#27408b" stroke="#2a2a2a" stroke-width="0.38"/>
<rect x="245.1" y="375.62" width="2.6" height="36.58" fill="#eec900" stroke="#2a2a2a" stroke-width="0.38"/>
<rect x="247.7" y="393.91" width="2.6" height="18.29" fill="#e00000" stroke="#2a2a2a" stroke-width="0.38"/>
<rect x="250.3" y="390.09" width="2.6" height="22.11" fill="#27408b" stroke="#2a2a2a" stroke-width="0.38"/>
<rect x="256.6" y="370.39" width="2.6" height="41.81" fill="#eec900" stroke="#2a2a2a" stroke-width="0.38"/>
<rect x="259.2" y="391.29" width="2.6" height="20.91" fill="#e00000" stroke="#2a2a2a" stroke-width="0.38"/>
<rect x="261.8" y="387.88" width="2.6" height="24.32" fill="#27408b" stroke="#2a2a2a" stroke-width="0.38"/>
<rect x="268.1" y="362.95" width="2.6" height="49.25" fill="#eec900" stroke="#2a2a2a" stroke-width="0.38"/>
<rect x="270.7" y="387.07" width="2.6" height="25.13" fill="#e00000" stroke="#2a2a2a" stroke-width="0.38"/>
<rect x="273.3" y="383.25" width="2.6" height="28.94" fill="#27408b" stroke="#2a2a2a" stroke-width="0.38"/>
<rect x="279.6" y="350.49" width="2.6" height="61.71" fill="#eec900" stroke="#2a2a2a" stroke-width="0.38"/>
<rect x="282.2" y="379.64" width="2.6" height="32.56" fill="#e00000" stroke="#2a2a2a" stroke-width="0.38"/>
<rect x="284.8" y="374.61" width="2.6" height="37.59" fill="#27408b" stroke="#2a2a2a" stroke-width="0.38"/>
<rect x="291.1" y="323.96" width="2.6" height="88.24" fill="#eec900" stroke="#2a2a2a" stroke-width="0.38"/>
<rect x="293.7" y="365.97" width="2.6" height="46.23" fill="#e00000" stroke="#2a2a2a" stroke-width="0.38"/>
<rect x="296.3" y="357.12" width="2.6" height="55.07" fill="#27408b" stroke="#2a2a2a" stroke-width="0.38"/>
<rect x="302.6" y="266.27" width="2.6" height="145.93" fill="#eec900" stroke="#2a2a2a" stroke-width="0.38"/>
<rect x="305.2" y="301.85" width="2.6" height="110.35" fill="#e00000" stroke="#2a2a2a" stroke-width="0.38"/>
<rect x="307.8" y="256.22" width="2.6" height="155.98" fill="#27408b" stroke="#2a2a2a" stroke-width="0.38"/>
<rect x="228.3" y="242.7" width="24.15" height="177.6" fill="#eec900" fill-opacity="0.2"/>
<rect x="266.25" y="242.7" width="12.65" height="177.6" fill="#e00000" fill-opacity="0.2"/>
<rect x="273.15" y="242.7" width="9.2" height="177.6" fill="#27408b" fill-opacity="0.2"/>
<line x1="228.3" x2="228.3" y1="242.7" y2="420.3" stroke="#f0c800" stroke-width="0.75" stroke-dasharray="1 2.5"/>
<line x1="252.45" x2="252.45" y1="242.7" y2="420.3" stroke="#f0c800" stroke-width="0.75" stroke-dasharray="1 2.5"/>
<line x1="239.8" x2="239.8" y1="242.7" y2="420.3" stroke="#f0c800" stroke-width="0.9" stroke-opacity="0.85"/>
<line x1="266.25" x2="266.25" y1="242.7" y2="420.3" stroke="#e03030" stroke-width="0.75" stroke-dasharray="1 2.5"/>
<line x1="278.9" x2="278.9" y1="242.7" y2="420.3" stroke="#e03030" stroke-width="0.75" stroke-dasharray="1 2.5"/>
<line x1="273.15" x2="273.15" y1="242.7" y2="420.3" stroke="#e03030" stroke-width="0.9" stroke-opacity="0.85"/>
<line x1="273.15" x2="273.15" y1="242.7" y2="420.3" stroke="#3050b0" stroke-width="0.75" stroke-dasharray="1 2.5"/>
<line x1="282.35" x2="282.35" y1="242.7" y2="420.3" stroke="#3050b0" stroke-width="0.75" stroke-dasharray="1 2.5"/>
<line x1="277.75" x2="277.75" y1="242.7" y2="420.3" stroke="#3050b0" stroke-width="0.9" stroke-opacity="0.85"/>
<polyline points="42,400.34 53.5,400.11 65,399.88 76.5,399.64 88,399.4 99.5,399.16 111,398.91 122.5,398.65 134,398.39 145.5,398.13 157,397.32 168.5,396.47 180,395.57 191.5,394.61 203,393.61 214.5,392.77 226,391.9 237.5,390.07 249,388.08 260.5,384.66 272,379.23 283.5,370.19 295,350.09 306.5,284.76" fill="none" stroke="#1a1a1a" stroke-width="0.85" stroke-dasharray="2.5 1.4"/>
<text x="147.5" y="291.75" font-size="5.57" fill="#111">CP All: 4.7 (5.4-4.0)</text>
<line x1="255.9" x2="272" y1="291.6" y2="291.6" stroke="#111" stroke-width="0.8"/>
<line x1="255.9" x2="255.9" y1="290.7" y2="292.5" stroke="#111" stroke-width="0.6"/>
<line x1="272" x2="272" y1="290.7" y2="292.5" stroke="#111" stroke-width="0.6"/>
<circle cx="263.95" cy="291.6" r="1.35" fill="#111"/>
<text x="147.5" y="301.8" font-size="5.57" fill="#111">CP Cancer: 6.8 (7.8-5.7)</text>
<line x1="228.3" x2="252.45" y1="301.65" y2="301.65" stroke="#f0c800" stroke-width="0.8"/>
<line x1="228.3" x2="228.3" y1="300.75" y2="302.55" stroke="#f0c800" stroke-width="0.6"/>
<line x1="252.45" x2="252.45" y1="300.75" y2="302.55" stroke="#f0c800" stroke-width="0.6"/>
<text x="147.5" y="311.85" font-size="5.57" fill="#111">CP Cardiovascular: 3.9 (4.5-3.4)</text>
<line x1="266.25" x2="278.9" y1="311.7" y2="311.7" stroke="#e02020" stroke-width="0.8"/>
<line x1="266.25" x2="266.25" y1="310.8" y2="312.6" stroke="#e02020" stroke-width="0.6"/>
<line x1="278.9" x2="278.9" y1="310.8" y2="312.6" stroke="#e02020" stroke-width="0.6"/>
<text x="147.5" y="321.9" font-size="5.57" fill="#111">CP Respiratory: 3.5 (3.9-3.1)</text>
<line x1="273.15" x2="282.35" y1="321.75" y2="321.75" stroke="#3050b0" stroke-width="0.8"/>
<line x1="273.15" x2="273.15" y1="320.85" y2="322.65" stroke="#3050b0" stroke-width="0.6"/>
<line x1="282.35" x2="282.35" y1="320.85" y2="322.65" stroke="#3050b0" stroke-width="0.6"/>
<line x1="24.5" x2="323.8" y1="242.7" y2="242.7" stroke="#bdbdbd" stroke-width="0.9"/>
<line x1="323.8" x2="323.8" y1="242.7" y2="420.3" stroke="#8c8c8c" stroke-width="0.9"/>
<line x1="24.5" x2="24.5" y1="242.7" y2="420.3" stroke="#555" stroke-width="0.9"/>
<line x1="24.5" x2="323.8" y1="420.3" y2="420.3" stroke="#666" stroke-width="0.9"/>
<line x1="23.3" x2="24.5" y1="412.2" y2="412.2" stroke="#444" stroke-width="0.6"/>
<text x="21.9" y="413.7" font-size="4.6" text-anchor="end" fill="#3a3a3a" style="stroke:#555;stroke-width:0.06px">0</text>
<line x1="23.3" x2="24.5" y1="402.15" y2="402.15" stroke="#444" stroke-width="0.6"/>
<text x="21.9" y="403.65" font-size="4.6" text-anchor="end" fill="#3a3a3a" style="stroke:#555;stroke-width:0.06px">5</text>
<line x1="23.3" x2="24.5" y1="392.1" y2="392.1" stroke="#444" stroke-width="0.6"/>
<text x="21.9" y="393.6" font-size="4.6" text-anchor="end" fill="#3a3a3a" style="stroke:#555;stroke-width:0.06px">10</text>
<line x1="23.3" x2="24.5" y1="382.05" y2="382.05" stroke="#444" stroke-width="0.6"/>
<text x="21.9" y="383.55" font-size="4.6" text-anchor="end" fill="#3a3a3a" style="stroke:#555;stroke-width:0.06px">15</text>
<line x1="23.3" x2="24.5" y1="372" y2="372" stroke="#444" stroke-width="0.6"/>
<text x="21.9" y="373.5" font-size="4.6" text-anchor="end" fill="#3a3a3a" style="stroke:#555;stroke-width:0.06px">20</text>
<line x1="23.3" x2="24.5" y1="361.95" y2="361.95" stroke="#444" stroke-width="0.6"/>
<text x="21.9" y="363.45" font-size="4.6" text-anchor="end" fill="#3a3a3a" style="stroke:#555;stroke-width:0.06px">25</text>
<line x1="23.3" x2="24.5" y1="351.9" y2="351.9" stroke="#444" stroke-width="0.6"/>
<text x="21.9" y="353.4" font-size="4.6" text-anchor="end" fill="#3a3a3a" style="stroke:#555;stroke-width:0.06px">30</text>
<line x1="23.3" x2="24.5" y1="341.85" y2="341.85" stroke="#444" stroke-width="0.6"/>
<text x="21.9" y="343.35" font-size="4.6" text-anchor="end" fill="#3a3a3a" style="stroke:#555;stroke-width:0.06px">35</text>
<line x1="23.3" x2="24.5" y1="331.8" y2="331.8" stroke="#444" stroke-width="0.6"/>
<text x="21.9" y="333.3" font-size="4.6" text-anchor="end" fill="#3a3a3a" style="stroke:#555;stroke-width:0.06px">40</text>
<line x1="23.3" x2="24.5" y1="321.75" y2="321.75" stroke="#444" stroke-width="0.6"/>
<text x="21.9" y="323.25" font-size="4.6" text-anchor="end" fill="#3a3a3a" style="stroke:#555;stroke-width:0.06px">45</text>
<line x1="23.3" x2="24.5" y1="311.7" y2="311.7" stroke="#444" stroke-width="0.6"/>
<text x="21.9" y="313.2" font-size="4.6" text-anchor="end" fill="#3a3a3a" style="stroke:#555;stroke-width:0.06px">50</text>
<line x1="23.3" x2="24.5" y1="301.65" y2="301.65" stroke="#444" stroke-width="0.6"/>
<text x="21.9" y="303.15" font-size="4.6" text-anchor="end" fill="#3a3a3a" style="stroke:#555;stroke-width:0.06px">55</text>
<line x1="23.3" x2="24.5" y1="291.6" y2="291.6" stroke="#444" stroke-width="0.6"/>
<text x="21.9" y="293.1" font-size="4.6" text-anchor="end" fill="#3a3a3a" style="stroke:#555;stroke-width:0.06px">60</text>
<line x1="23.3" x2="24.5" y1="281.55" y2="281.55" stroke="#444" stroke-width="0.6"/>
<text x="21.9" y="283.05" font-size="4.6" text-anchor="end" fill="#3a3a3a" style="stroke:#555;stroke-width:0.06px">65</text>
<line x1="23.3" x2="24.5" y1="271.5" y2="271.5" stroke="#444" stroke-width="0.6"/>
<text x="21.9" y="273" font-size="4.6" text-anchor="end" fill="#3a3a3a" style="stroke:#555;stroke-width:0.06px">70</text>
<line x1="23.3" x2="24.5" y1="261.45" y2="261.45" stroke="#444" stroke-width="0.6"/>
<text x="21.9" y="262.95" font-size="4.6" text-anchor="end" fill="#3a3a3a" style="stroke:#555;stroke-width:0.06px">75</text>
<line x1="23.3" x2="24.5" y1="251.4" y2="251.4" stroke="#444" stroke-width="0.6"/>
<text x="21.9" y="252.9" font-size="4.6" text-anchor="end" fill="#3a3a3a" style="stroke:#555;stroke-width:0.06px">80</text>
<line x1="42" x2="42" y1="420.3" y2="421.5" stroke="#444" stroke-width="0.6"/>
<text x="42" y="426.6" font-size="4.6" text-anchor="middle" fill="#3a3a3a" style="stroke:#555;stroke-width:0.06px">24</text>
<line x1="53.5" x2="53.5" y1="420.3" y2="421.5" stroke="#444" stroke-width="0.6"/>
<text x="53.5" y="426.6" font-size="4.6" text-anchor="middle" fill="#3a3a3a" style="stroke:#555;stroke-width:0.06px">23</text>
<line x1="65" x2="65" y1="420.3" y2="421.5" stroke="#444" stroke-width="0.6"/>
<text x="65" y="426.6" font-size="4.6" text-anchor="middle" fill="#3a3a3a" style="stroke:#555;stroke-width:0.06px">22</text>
<line x1="76.5" x2="76.5" y1="420.3" y2="421.5" stroke="#444" stroke-width="0.6"/>
<text x="76.5" y="426.6" font-size="4.6" text-anchor="middle" fill="#3a3a3a" style="stroke:#555;stroke-width:0.06px">21</text>
<line x1="88" x2="88" y1="420.3" y2="421.5" stroke="#444" stroke-width="0.6"/>
<text x="88" y="426.6" font-size="4.6" text-anchor="middle" fill="#3a3a3a" style="stroke:#555;stroke-width:0.06px">20</text>
<line x1="99.5" x2="99.5" y1="420.3" y2="421.5" stroke="#444" stroke-width="0.6"/>
<text x="99.5" y="426.6" font-size="4.6" text-anchor="middle" fill="#3a3a3a" style="stroke:#555;stroke-width:0.06px">19</text>
<line x1="111" x2="111" y1="420.3" y2="421.5" stroke="#444" stroke-width="0.6"/>
<text x="111" y="426.6" font-size="4.6" text-anchor="middle" fill="#3a3a3a" style="stroke:#555;stroke-width:0.06px">18</text>
<line x1="122.5" x2="122.5" y1="420.3" y2="421.5" stroke="#444" stroke-width="0.6"/>
<text x="122.5" y="426.6" font-size="4.6" text-anchor="middle" fill="#3a3a3a" style="stroke:#555;stroke-width:0.06px">17</text>
<line x1="134" x2="134" y1="420.3" y2="421.5" stroke="#444" stroke-width="0.6"/>
<text x="134" y="426.6" font-size="4.6" text-anchor="middle" fill="#3a3a3a" style="stroke:#555;stroke-width:0.06px">16</text>
<line x1="145.5" x2="145.5" y1="420.3" y2="421.5" stroke="#444" stroke-width="0.6"/>
<text x="145.5" y="426.6" font-size="4.6" text-anchor="middle" fill="#3a3a3a" style="stroke:#555;stroke-width:0.06px">15</text>
<line x1="157" x2="157" y1="420.3" y2="421.5" stroke="#444" stroke-width="0.6"/>
<text x="157" y="426.6" font-size="4.6" text-anchor="middle" fill="#3a3a3a" style="stroke:#555;stroke-width:0.06px">14</text>
<line x1="168.5" x2="168.5" y1="420.3" y2="421.5" stroke="#444" stroke-width="0.6"/>
<text x="168.5" y="426.6" font-size="4.6" text-anchor="middle" fill="#3a3a3a" style="stroke:#555;stroke-width:0.06px">13</text>
<line x1="180" x2="180" y1="420.3" y2="421.5" stroke="#444" stroke-width="0.6"/>
<text x="180" y="426.6" font-size="4.6" text-anchor="middle" fill="#3a3a3a" style="stroke:#555;stroke-width:0.06px">12</text>
<line x1="191.5" x2="191.5" y1="420.3" y2="421.5" stroke="#444" stroke-width="0.6"/>
<text x="191.5" y="426.6" font-size="4.6" text-anchor="middle" fill="#3a3a3a" style="stroke:#555;stroke-width:0.06px">11</text>
<line x1="203" x2="203" y1="420.3" y2="421.5" stroke="#444" stroke-width="0.6"/>
<text x="203" y="426.6" font-size="4.6" text-anchor="middle" fill="#3a3a3a" style="stroke:#555;stroke-width:0.06px">10</text>
<line x1="214.5" x2="214.5" y1="420.3" y2="421.5" stroke="#444" stroke-width="0.6"/>
<text x="214.5" y="426.6" font-size="4.6" text-anchor="middle" fill="#3a3a3a" style="stroke:#555;stroke-width:0.06px">9</text>
<line x1="226" x2="226" y1="420.3" y2="421.5" stroke="#444" stroke-width="0.6"/>
<text x="226" y="426.6" font-size="4.6" text-anchor="middle" fill="#3a3a3a" style="stroke:#555;stroke-width:0.06px">8</text>
<line x1="237.5" x2="237.5" y1="420.3" y2="421.5" stroke="#444" stroke-width="0.6"/>
<text x="237.5" y="426.6" font-size="4.6" text-anchor="middle" fill="#3a3a3a" style="stroke:#555;stroke-width:0.06px">7</text>
<line x1="249" x2="249" y1="420.3" y2="421.5" stroke="#444" stroke-width="0.6"/>
<text x="249" y="426.6" font-size="4.6" text-anchor="middle" fill="#3a3a3a" style="stroke:#555;stroke-width:0.06px">6</text>
<line x1="260.5" x2="260.5" y1="420.3" y2="421.5" stroke="#444" stroke-width="0.6"/>
<text x="260.5" y="426.6" font-size="4.6" text-anchor="middle" fill="#3a3a3a" style="stroke:#555;stroke-width:0.06px">5</text>
<line x1="272" x2="272" y1="420.3" y2="421.5" stroke="#444" stroke-width="0.6"/>
<text x="272" y="426.6" font-size="4.6" text-anchor="middle" fill="#3a3a3a" style="stroke:#555;stroke-width:0.06px">4</text>
<line x1="283.5" x2="283.5" y1="420.3" y2="421.5" stroke="#444" stroke-width="0.6"/>
<text x="283.5" y="426.6" font-size="4.6" text-anchor="middle" fill="#3a3a3a" style="stroke:#555;stroke-width:0.06px">3</text>
<line x1="295" x2="295" y1="420.3" y2="421.5" stroke="#444" stroke-width="0.6"/>
<text x="295" y="426.6" font-size="4.6" text-anchor="middle" fill="#3a3a3a" style="stroke:#555;stroke-width:0.06px">2</text>
<line x1="306.5" x2="306.5" y1="420.3" y2="421.5" stroke="#444" stroke-width="0.6"/>
<text x="306.5" y="426.6" font-size="4.6" text-anchor="middle" fill="#3a3a3a" style="stroke:#555;stroke-width:0.06px">1</text>
<text x="174.15" y="436.1" font-size="5.6" text-anchor="middle" fill="#222">Month before death</text>
<text transform="translate(4.6,331.5) rotate(-90)" font-size="5.4" text-anchor="middle" fill="#222"><tspan x="0" y="0">Percentage of subjects with</tspan><tspan x="0" y="5.8">at least one hospitalization</tspan></text>
<text x="62.5" y="232" font-size="6.55" fill="#111">Hospitalizations by main cause of death, with change point for all decedents and</text>
<text x="54.9" y="238.7" font-size="6.55" fill="#111">for specific main cause of death (cancer, cardiovascular, and respiratory diseases)</text>
<text x="49.6" y="231.1" font-size="10.5" font-weight="bold" fill="#000">c</text>
<rect x="48.5" y="251.9" width="41.4" height="56.6" fill="#fff" stroke="#ececec" stroke-width="0.6"/>
<line x1="89.9" x2="89.9" y1="251.9" y2="308.5" stroke="#c8c8c8" stroke-width="0.7"/>
<line x1="48.5" x2="89.9" y1="308.5" y2="308.5" stroke="#666" stroke-width="0.8"/>
<text x="51.4" y="258" font-size="3.6" fill="#333" style="stroke:none">Cause</text>
<rect x="51.4" y="260.9" width="8.2" height="8.3" fill="#eec900" stroke="#222" stroke-width="0.5"/>
<text x="61.9" y="266.25" font-size="3.9" fill="#333" style="stroke:none">Cancer</text>
<rect x="51.4" y="269.2" width="8.2" height="8.3" fill="#e00000" stroke="#222" stroke-width="0.5"/>
<text x="61.9" y="274.55" font-size="3.9" fill="#333" style="stroke:none">Cardiovascular</text>
<rect x="51.4" y="277.5" width="8.2" height="8.3" fill="#27408b" stroke="#222" stroke-width="0.5"/>
<text x="61.9" y="282.85" font-size="3.9" fill="#333" style="stroke:none">Respiratory</text>
<line x1="51.9" x2="58.6" y1="301.6" y2="301.6" stroke="#111" stroke-width="0.7" stroke-dasharray="2.6 1.5"/>
<text x="61.9" y="302.8" font-size="3.9" fill="#333" style="stroke:none">All Cause</text>
<line x1="384.3" x2="683.8" y1="412.4" y2="412.4" stroke="#e3e3e3" stroke-width="0.8"/>
<line x1="384.3" x2="683.8" y1="402.47" y2="402.47" stroke="#e3e3e3" stroke-width="0.8"/>
<line x1="384.3" x2="683.8" y1="392.55" y2="392.55" stroke="#e3e3e3" stroke-width="0.8"/>
<line x1="384.3" x2="683.8" y1="382.62" y2="382.62" stroke="#e3e3e3" stroke-width="0.8"/>
<line x1="384.3" x2="683.8" y1="372.7" y2="372.7" stroke="#e3e3e3" stroke-width="0.8"/>
<line x1="384.3" x2="683.8" y1="362.77" y2="362.77" stroke="#e3e3e3" stroke-width="0.8"/>
<line x1="384.3" x2="683.8" y1="352.85" y2="352.85" stroke="#e3e3e3" stroke-width="0.8"/>
<line x1="384.3" x2="683.8" y1="342.92" y2="342.92" stroke="#e3e3e3" stroke-width="0.8"/>
<line x1="384.3" x2="683.8" y1="333" y2="333" stroke="#e3e3e3" stroke-width="0.8"/>
<line x1="384.3" x2="683.8" y1="323.07" y2="323.07" stroke="#e3e3e3" stroke-width="0.8"/>
<line x1="384.3" x2="683.8" y1="313.15" y2="313.15" stroke="#e3e3e3" stroke-width="0.8"/>
<line x1="384.3" x2="683.8" y1="303.22" y2="303.22" stroke="#e3e3e3" stroke-width="0.8"/>
<line x1="384.3" x2="683.8" y1="293.3" y2="293.3" stroke="#e3e3e3" stroke-width="0.8"/>
<line x1="384.3" x2="683.8" y1="283.38" y2="283.38" stroke="#e3e3e3" stroke-width="0.8"/>
<line x1="384.3" x2="683.8" y1="273.45" y2="273.45" stroke="#e3e3e3" stroke-width="0.8"/>
<line x1="384.3" x2="683.8" y1="263.52" y2="263.52" stroke="#e3e3e3" stroke-width="0.8"/>
<line x1="384.3" x2="683.8" y1="253.6" y2="253.6" stroke="#e3e3e3" stroke-width="0.8"/>
<rect x="398.15" y="393.88" width="1.93" height="18.52" fill="#cdc673" stroke="#2a2a2a" stroke-width="0.38"/>
<rect x="400.07" y="398.11" width="1.93" height="14.29" fill="#eec900" stroke="#2a2a2a" stroke-width="0.38"/>
<rect x="402" y="401.93" width="1.93" height="10.47" fill="#cd6600" stroke="#2a2a2a" stroke-width="0.38"/>
<rect x="403.92" y="404.75" width="1.93" height="7.65" fill="#8b6914" stroke="#2a2a2a" stroke-width="0.38"/>
<rect x="409.65" y="393.88" width="1.93" height="18.52" fill="#cdc673" stroke="#2a2a2a" stroke-width="0.38"/>
<rect x="411.57" y="397.3" width="1.93" height="15.1" fill="#eec900" stroke="#2a2a2a" stroke-width="0.38"/>
<rect x="413.5" y="401.93" width="1.93" height="10.47" fill="#cd6600" stroke="#2a2a2a" stroke-width="0.38"/>
<rect x="415.42" y="405.15" width="1.93" height="7.25" fill="#8b6914" stroke="#2a2a2a" stroke-width="0.38"/>
<rect x="421.15" y="392.07" width="1.93" height="20.33" fill="#cdc673" stroke="#2a2a2a" stroke-width="0.38"/>
<rect x="423.07" y="397.3" width="1.93" height="15.1" fill="#eec900" stroke="#2a2a2a" stroke-width="0.38"/>
<rect x="425" y="401.93" width="1.93" height="10.47" fill="#cd6600" stroke="#2a2a2a" stroke-width="0.38"/>
<rect x="426.92" y="404.75" width="1.93" height="7.65" fill="#8b6914" stroke="#2a2a2a" stroke-width="0.38"/>
<rect x="432.65" y="390.86" width="1.93" height="21.54" fill="#cdc673" stroke="#2a2a2a" stroke-width="0.38"/>
<rect x="434.57" y="396.9" width="1.93" height="15.5" fill="#eec900" stroke="#2a2a2a" stroke-width="0.38"/>
<rect x="436.5" y="401.13" width="1.93" height="11.27" fill="#cd6600" stroke="#2a2a2a" stroke-width="0.38"/>
<rect x="438.42" y="404.75" width="1.93" height="7.65" fill="#8b6914" stroke="#2a2a2a" stroke-width="0.38"/>
<rect x="444.15" y="390.26" width="1.93" height="22.14" fill="#cdc673" stroke="#2a2a2a" stroke-width="0.38"/>
<rect x="446.07" y="396.5" width="1.93" height="15.9" fill="#eec900" stroke="#2a2a2a" stroke-width="0.38"/>
<rect x="448" y="401.73" width="1.93" height="10.67" fill="#cd6600" stroke="#2a2a2a" stroke-width="0.38"/>
<rect x="449.92" y="405.56" width="1.93" height="6.84" fill="#8b6914" stroke="#2a2a2a" stroke-width="0.38"/>
<rect x="455.65" y="389.45" width="1.93" height="22.95" fill="#cdc673" stroke="#2a2a2a" stroke-width="0.38"/>
<rect x="457.57" y="395.49" width="1.93" height="16.91" fill="#eec900" stroke="#2a2a2a" stroke-width="0.38"/>
<rect x="459.5" y="401.13" width="1.93" height="11.27" fill="#cd6600" stroke="#2a2a2a" stroke-width="0.38"/>
<rect x="461.42" y="405.76" width="1.93" height="6.64" fill="#8b6914" stroke="#2a2a2a" stroke-width="0.38"/>
<rect x="467.15" y="387.64" width="1.93" height="24.76" fill="#cdc673" stroke="#2a2a2a" stroke-width="0.38"/>
<rect x="469.07" y="395.09" width="1.93" height="17.31" fill="#eec900" stroke="#2a2a2a" stroke-width="0.38"/>
<rect x="471" y="400.32" width="1.93" height="12.08" fill="#cd6600" stroke="#2a2a2a" stroke-width="0.38"/>
<rect x="472.92" y="404.35" width="1.93" height="8.05" fill="#8b6914" stroke="#2a2a2a" stroke-width="0.38"/>
<rect x="478.65" y="386.23" width="1.93" height="26.17" fill="#cdc673" stroke="#2a2a2a" stroke-width="0.38"/>
<rect x="480.57" y="395.09" width="1.93" height="17.31" fill="#eec900" stroke="#2a2a2a" stroke-width="0.38"/>
<rect x="482.5" y="401.13" width="1.93" height="11.27" fill="#cd6600" stroke="#2a2a2a" stroke-width="0.38"/>
<rect x="484.42" y="403.34" width="1.93" height="9.06" fill="#8b6914" stroke="#2a2a2a" stroke-width="0.38"/>
<rect x="490.15" y="386.23" width="1.93" height="26.17" fill="#cdc673" stroke="#2a2a2a" stroke-width="0.38"/>
<rect x="492.07" y="393.48" width="1.93" height="18.92" fill="#eec900" stroke="#2a2a2a" stroke-width="0.38"/>
<rect x="494" y="400.32" width="1.93" height="12.08" fill="#cd6600" stroke="#2a2a2a" stroke-width="0.38"/>
<rect x="495.92" y="402.94" width="1.93" height="9.46" fill="#8b6914" stroke="#2a2a2a" stroke-width="0.38"/>
<rect x="501.65" y="384.42" width="1.93" height="27.98" fill="#cdc673" stroke="#2a2a2a" stroke-width="0.38"/>
<rect x="503.57" y="392.07" width="1.93" height="20.33" fill="#eec900" stroke="#2a2a2a" stroke-width="0.38"/>
<rect x="505.5" y="399.32" width="1.93" height="13.08" fill="#cd6600" stroke="#2a2a2a" stroke-width="0.38"/>
<rect x="507.42" y="401.93" width="1.93" height="10.47" fill="#8b6914" stroke="#2a2a2a" stroke-width="0.38"/>
<rect x="513.15" y="382.2" width="1.93" height="30.19" fill="#cdc673" stroke="#2a2a2a" stroke-width="0.38"/>
<rect x="515.07" y="391.67" width="1.93" height="20.73" fill="#eec900" stroke="#2a2a2a" stroke-width="0.38"/>
<rect x="517" y="399.32" width="1.93" height="13.08" fill="#cd6600" stroke="#2a2a2a" stroke-width="0.38"/>
<rect x="518.92" y="401.93" width="1.93" height="10.47" fill="#8b6914" stroke="#2a2a2a" stroke-width="0.38"/>
<rect x="524.65" y="380.39" width="1.93" height="32.01" fill="#cdc673" stroke="#2a2a2a" stroke-width="0.38"/>
<rect x="526.57" y="391.06" width="1.93" height="21.34" fill="#eec900" stroke="#2a2a2a" stroke-width="0.38"/>
<rect x="528.5" y="398.31" width="1.93" height="14.09" fill="#cd6600" stroke="#2a2a2a" stroke-width="0.38"/>
<rect x="530.42" y="402.74" width="1.93" height="9.66" fill="#8b6914" stroke="#2a2a2a" stroke-width="0.38"/>
<rect x="536.15" y="379.39" width="1.93" height="33.01" fill="#cdc673" stroke="#2a2a2a" stroke-width="0.38"/>
<rect x="538.07" y="388.85" width="1.93" height="23.55" fill="#eec900" stroke="#2a2a2a" stroke-width="0.38"/>
<rect x="540" y="398.11" width="1.93" height="14.29" fill="#cd6600" stroke="#2a2a2a" stroke-width="0.38"/>
<rect x="541.92" y="403.34" width="1.93" height="9.06" fill="#8b6914" stroke="#2a2a2a" stroke-width="0.38"/>
<rect x="547.65" y="378.18" width="1.93" height="34.22" fill="#cdc673" stroke="#2a2a2a" stroke-width="0.38"/>
<rect x="549.57" y="387.84" width="1.93" height="24.56" fill="#eec900" stroke="#2a2a2a" stroke-width="0.38"/>
<rect x="551.5" y="396.3" width="1.93" height="16.1" fill="#cd6600" stroke="#2a2a2a" stroke-width="0.38"/>
<rect x="553.42" y="403.34" width="1.93" height="9.06" fill="#8b6914" stroke="#2a2a2a" stroke-width="0.38"/>
<rect x="559.15" y="375.76" width="1.93" height="36.64" fill="#cdc673" stroke="#2a2a2a" stroke-width="0.38"/>
<rect x="561.07" y="386.23" width="1.93" height="26.17" fill="#eec900" stroke="#2a2a2a" stroke-width="0.38"/>
<rect x="563" y="395.89" width="1.93" height="16.51" fill="#cd6600" stroke="#2a2a2a" stroke-width="0.38"/>
<rect x="564.92" y="399.32" width="1.93" height="13.08" fill="#8b6914" stroke="#2a2a2a" stroke-width="0.38"/>
<rect x="570.65" y="372.14" width="1.93" height="40.26" fill="#cdc673" stroke="#2a2a2a" stroke-width="0.38"/>
<rect x="572.57" y="384.82" width="1.93" height="27.58" fill="#eec900" stroke="#2a2a2a" stroke-width="0.38"/>
<rect x="574.5" y="394.08" width="1.93" height="18.32" fill="#cd6600" stroke="#2a2a2a" stroke-width="0.38"/>
<rect x="576.42" y="402.74" width="1.93" height="9.66" fill="#8b6914" stroke="#2a2a2a" stroke-width="0.38"/>
<rect x="582.15" y="370.93" width="1.93" height="41.47" fill="#cdc673" stroke="#2a2a2a" stroke-width="0.38"/>
<rect x="584.07" y="382.81" width="1.93" height="29.59" fill="#eec900" stroke="#2a2a2a" stroke-width="0.38"/>
<rect x="586" y="392.27" width="1.93" height="20.13" fill="#cd6600" stroke="#2a2a2a" stroke-width="0.38"/>
<rect x="587.92" y="398.91" width="1.93" height="13.49" fill="#8b6914" stroke="#2a2a2a" stroke-width="0.38"/>
<rect x="593.65" y="367.31" width="1.93" height="45.09" fill="#cdc673" stroke="#2a2a2a" stroke-width="0.38"/>
<rect x="595.57" y="381.4" width="1.93" height="31" fill="#eec900" stroke="#2a2a2a" stroke-width="0.38"/>
<rect x="597.5" y="390.26" width="1.93" height="22.14" fill="#cd6600" stroke="#2a2a2a" stroke-width="0.38"/>
<rect x="599.42" y="399.32" width="1.93" height="13.08" fill="#8b6914" stroke="#2a2a2a" stroke-width="0.38"/>
<rect x="605.15" y="362.88" width="1.93" height="49.52" fill="#cdc673" stroke="#2a2a2a" stroke-width="0.38"/>
<rect x="607.07" y="378.18" width="1.93" height="34.22" fill="#eec900" stroke="#2a2a2a" stroke-width="0.38"/>
<rect x="609" y="387.04" width="1.93" height="25.36" fill="#cd6600" stroke="#2a2a2a" stroke-width="0.38"/>
<rect x="610.92" y="395.09" width="1.93" height="17.31" fill="#8b6914" stroke="#2a2a2a" stroke-width="0.38"/>
<rect x="616.65" y="357.45" width="1.93" height="54.95" fill="#cdc673" stroke="#2a2a2a" stroke-width="0.38"/>
<rect x="618.57" y="372.14" width="1.93" height="40.26" fill="#eec900" stroke="#2a2a2a" stroke-width="0.38"/>
<rect x="620.5" y="383.41" width="1.93" height="28.99" fill="#cd6600" stroke="#2a2a2a" stroke-width="0.38"/>
<rect x="622.42" y="396.3" width="1.93" height="16.1" fill="#8b6914" stroke="#2a2a2a" stroke-width="0.38"/>
<rect x="628.15" y="349.8" width="1.93" height="62.6" fill="#cdc673" stroke="#2a2a2a" stroke-width="0.38"/>
<rect x="630.07" y="364.09" width="1.93" height="48.31" fill="#eec900" stroke="#2a2a2a" stroke-width="0.38"/>
<rect x="632" y="378.38" width="1.93" height="34.02" fill="#cd6600" stroke="#2a2a2a" stroke-width="0.38"/>
<rect x="633.92" y="389.05" width="1.93" height="23.35" fill="#8b6914" stroke="#2a2a2a" stroke-width="0.38"/>
<rect x="639.65" y="338.52" width="1.93" height="73.88" fill="#cdc673" stroke="#2a2a2a" stroke-width="0.38"/>
<rect x="641.57" y="350.2" width="1.93" height="62.2" fill="#eec900" stroke="#2a2a2a" stroke-width="0.38"/>
<rect x="643.5" y="366.3" width="1.93" height="46.1" fill="#cd6600" stroke="#2a2a2a" stroke-width="0.38"/>
<rect x="645.42" y="384.02" width="1.93" height="28.38" fill="#8b6914" stroke="#2a2a2a" stroke-width="0.38"/>
<rect x="651.15" y="311.75" width="1.93" height="100.65" fill="#cdc673" stroke="#2a2a2a" stroke-width="0.38"/>
<rect x="653.07" y="324.83" width="1.93" height="87.57" fill="#eec900" stroke="#2a2a2a" stroke-width="0.38"/>
<rect x="655" y="340.94" width="1.93" height="71.46" fill="#cd6600" stroke="#2a2a2a" stroke-width="0.38"/>
<rect x="656.92" y="365.9" width="1.93" height="46.5" fill="#8b6914" stroke="#2a2a2a" stroke-width="0.38"/>
<rect x="662.65" y="258" width="1.93" height="154.4" fill="#cdc673" stroke="#2a2a2a" stroke-width="0.38"/>
<rect x="664.57" y="266.26" width="1.93" height="146.14" fill="#eec900" stroke="#2a2a2a" stroke-width="0.38"/>
<rect x="666.5" y="281.15" width="1.93" height="131.25" fill="#cd6600" stroke="#2a2a2a" stroke-width="0.38"/>
<rect x="668.42" y="309.74" width="1.93" height="102.66" fill="#8b6914" stroke="#2a2a2a" stroke-width="0.38"/>
<rect x="563" y="242.9" width="35.65" height="177.6" fill="#cdc673" fill-opacity="0.25"/>
<rect x="590.6" y="242.9" width="21.85" height="177.6" fill="#eec900" fill-opacity="0.2"/>
<rect x="605.55" y="242.9" width="17.25" height="177.6" fill="#cd6600" fill-opacity="0.2"/>
<rect x="619.35" y="242.9" width="13.8" height="177.6" fill="#8b6914" fill-opacity="0.18"/>
<line x1="563" x2="563" y1="242.9" y2="420.5" stroke="#c8bc60" stroke-width="0.75" stroke-dasharray="1 2.5"/>
<line x1="598.65" x2="598.65" y1="242.9" y2="420.5" stroke="#c8bc60" stroke-width="0.75" stroke-dasharray="1 2.5"/>
<line x1="581.4" x2="581.4" y1="242.9" y2="420.5" stroke="#c8bc60" stroke-width="0.9" stroke-opacity="0.85"/>
<line x1="590.6" x2="590.6" y1="242.9" y2="420.5" stroke="#f0c000" stroke-width="0.75" stroke-dasharray="1 2.5"/>
<line x1="612.45" x2="612.45" y1="242.9" y2="420.5" stroke="#f0c000" stroke-width="0.75" stroke-dasharray="1 2.5"/>
<line x1="600.95" x2="600.95" y1="242.9" y2="420.5" stroke="#f0c000" stroke-width="0.9" stroke-opacity="0.85"/>
<line x1="605.55" x2="605.55" y1="242.9" y2="420.5" stroke="#e07020" stroke-width="0.75" stroke-dasharray="1 2.5"/>
<line x1="622.8" x2="622.8" y1="242.9" y2="420.5" stroke="#e07020" stroke-width="0.75" stroke-dasharray="1 2.5"/>
<line x1="613.6" x2="613.6" y1="242.9" y2="420.5" stroke="#e07020" stroke-width="0.9" stroke-opacity="0.85"/>
<line x1="619.35" x2="619.35" y1="242.9" y2="420.5" stroke="#8a6a10" stroke-width="0.75" stroke-dasharray="1 2.5"/>
<line x1="633.15" x2="633.15" y1="242.9" y2="420.5" stroke="#8a6a10" stroke-width="0.75" stroke-dasharray="1 2.5"/>
<line x1="626.25" x2="626.25" y1="242.9" y2="420.5" stroke="#8a6a10" stroke-width="0.9" stroke-opacity="0.85"/>
<polyline points="402,397.5 413.5,396.93 425,396.33 436.5,395.71 448,395.07 459.5,394.4 471,393.71 482.5,392.99 494,392.24 505.5,391.46 517,390.1 528.5,388.65 540,387.87 551.5,387.06 563,386.23 574.5,383.73 586,381 597.5,379.79 609,376.17 620.5,371.13 632,363.69 643.5,348.99 655,327.05 666.5,276.52" fill="none" stroke="#1a1a1a" stroke-width="0.85" stroke-dasharray="2.5 1.4"/>
<text x="499.9" y="293.45" font-size="5.57" fill="#111">CP 65+: 6.8 (7.8-5.7)</text>
<line x1="588.3" x2="612.45" y1="293.3" y2="293.3" stroke="#111" stroke-width="0.8"/>
<line x1="588.3" x2="588.3" y1="292.4" y2="294.2" stroke="#111" stroke-width="0.6"/>
<line x1="612.45" x2="612.45" y1="292.4" y2="294.2" stroke="#111" stroke-width="0.6"/>
<circle cx="599.8" cy="293.3" r="1.35" fill="#111"/>
<text x="499.9" y="303.37" font-size="5.57" fill="#111">CP 65-74: 8.4 (10.0-6.9)</text>
<line x1="563" x2="598.65" y1="303.22" y2="303.22" stroke="#c8bc60" stroke-width="0.8"/>
<line x1="563" x2="563" y1="302.32" y2="304.12" stroke="#c8bc60" stroke-width="0.6"/>
<line x1="598.65" x2="598.65" y1="302.32" y2="304.12" stroke="#c8bc60" stroke-width="0.6"/>
<text x="499.9" y="313.3" font-size="5.57" fill="#111">CP 75-84: 6.7 (7.6-5.7)</text>
<line x1="590.6" x2="612.45" y1="313.15" y2="313.15" stroke="#f0c000" stroke-width="0.8"/>
<line x1="590.6" x2="590.6" y1="312.25" y2="314.05" stroke="#f0c000" stroke-width="0.6"/>
<line x1="612.45" x2="612.45" y1="312.25" y2="314.05" stroke="#f0c000" stroke-width="0.6"/>
<text x="499.9" y="323.22" font-size="5.57" fill="#111">CP 85-94: 5.6 (6.3-4.8)</text>
<line x1="605.55" x2="622.8" y1="323.07" y2="323.07" stroke="#e07020" stroke-width="0.8"/>
<line x1="605.55" x2="605.55" y1="322.18" y2="323.97" stroke="#e07020" stroke-width="0.6"/>
<line x1="622.8" x2="622.8" y1="322.18" y2="323.97" stroke="#e07020" stroke-width="0.6"/>
<text x="499.9" y="333.15" font-size="5.57" fill="#111">CP 95+: 4.5 (5.1-3.9)</text>
<line x1="619.35" x2="633.15" y1="333" y2="333" stroke="#8a6a10" stroke-width="0.8"/>
<line x1="619.35" x2="619.35" y1="332.1" y2="333.9" stroke="#8a6a10" stroke-width="0.6"/>
<line x1="633.15" x2="633.15" y1="332.1" y2="333.9" stroke="#8a6a10" stroke-width="0.6"/>
<line x1="384.3" x2="683.8" y1="242.9" y2="242.9" stroke="#bdbdbd" stroke-width="0.9"/>
<line x1="683.8" x2="683.8" y1="242.9" y2="420.5" stroke="#8c8c8c" stroke-width="0.9"/>
<line x1="384.3" x2="384.3" y1="242.9" y2="420.5" stroke="#555" stroke-width="0.9"/>
<line x1="384.3" x2="683.8" y1="420.5" y2="420.5" stroke="#666" stroke-width="0.9"/>
<line x1="383.1" x2="384.3" y1="412.4" y2="412.4" stroke="#444" stroke-width="0.6"/>
<text x="381.7" y="413.9" font-size="4.6" text-anchor="end" fill="#3a3a3a" style="stroke:#555;stroke-width:0.06px">0</text>
<line x1="383.1" x2="384.3" y1="402.47" y2="402.47" stroke="#444" stroke-width="0.6"/>
<text x="381.7" y="403.97" font-size="4.6" text-anchor="end" fill="#3a3a3a" style="stroke:#555;stroke-width:0.06px">5</text>
<line x1="383.1" x2="384.3" y1="392.55" y2="392.55" stroke="#444" stroke-width="0.6"/>
<text x="381.7" y="394.05" font-size="4.6" text-anchor="end" fill="#3a3a3a" style="stroke:#555;stroke-width:0.06px">10</text>
<line x1="383.1" x2="384.3" y1="382.62" y2="382.62" stroke="#444" stroke-width="0.6"/>
<text x="381.7" y="384.12" font-size="4.6" text-anchor="end" fill="#3a3a3a" style="stroke:#555;stroke-width:0.06px">15</text>
<line x1="383.1" x2="384.3" y1="372.7" y2="372.7" stroke="#444" stroke-width="0.6"/>
<text x="381.7" y="374.2" font-size="4.6" text-anchor="end" fill="#3a3a3a" style="stroke:#555;stroke-width:0.06px">20</text>
<line x1="383.1" x2="384.3" y1="362.77" y2="362.77" stroke="#444" stroke-width="0.6"/>
<text x="381.7" y="364.27" font-size="4.6" text-anchor="end" fill="#3a3a3a" style="stroke:#555;stroke-width:0.06px">25</text>
<line x1="383.1" x2="384.3" y1="352.85" y2="352.85" stroke="#444" stroke-width="0.6"/>
<text x="381.7" y="354.35" font-size="4.6" text-anchor="end" fill="#3a3a3a" style="stroke:#555;stroke-width:0.06px">30</text>
<line x1="383.1" x2="384.3" y1="342.92" y2="342.92" stroke="#444" stroke-width="0.6"/>
<text x="381.7" y="344.42" font-size="4.6" text-anchor="end" fill="#3a3a3a" style="stroke:#555;stroke-width:0.06px">35</text>
<line x1="383.1" x2="384.3" y1="333" y2="333" stroke="#444" stroke-width="0.6"/>
<text x="381.7" y="334.5" font-size="4.6" text-anchor="end" fill="#3a3a3a" style="stroke:#555;stroke-width:0.06px">40</text>
<line x1="383.1" x2="384.3" y1="323.07" y2="323.07" stroke="#444" stroke-width="0.6"/>
<text x="381.7" y="324.57" font-size="4.6" text-anchor="end" fill="#3a3a3a" style="stroke:#555;stroke-width:0.06px">45</text>
<line x1="383.1" x2="384.3" y1="313.15" y2="313.15" stroke="#444" stroke-width="0.6"/>
<text x="381.7" y="314.65" font-size="4.6" text-anchor="end" fill="#3a3a3a" style="stroke:#555;stroke-width:0.06px">50</text>
<line x1="383.1" x2="384.3" y1="303.22" y2="303.22" stroke="#444" stroke-width="0.6"/>
<text x="381.7" y="304.72" font-size="4.6" text-anchor="end" fill="#3a3a3a" style="stroke:#555;stroke-width:0.06px">55</text>
<line x1="383.1" x2="384.3" y1="293.3" y2="293.3" stroke="#444" stroke-width="0.6"/>
<text x="381.7" y="294.8" font-size="4.6" text-anchor="end" fill="#3a3a3a" style="stroke:#555;stroke-width:0.06px">60</text>
<line x1="383.1" x2="384.3" y1="283.38" y2="283.38" stroke="#444" stroke-width="0.6"/>
<text x="381.7" y="284.88" font-size="4.6" text-anchor="end" fill="#3a3a3a" style="stroke:#555;stroke-width:0.06px">65</text>
<line x1="383.1" x2="384.3" y1="273.45" y2="273.45" stroke="#444" stroke-width="0.6"/>
<text x="381.7" y="274.95" font-size="4.6" text-anchor="end" fill="#3a3a3a" style="stroke:#555;stroke-width:0.06px">70</text>
<line x1="383.1" x2="384.3" y1="263.52" y2="263.52" stroke="#444" stroke-width="0.6"/>
<text x="381.7" y="265.02" font-size="4.6" text-anchor="end" fill="#3a3a3a" style="stroke:#555;stroke-width:0.06px">75</text>
<line x1="383.1" x2="384.3" y1="253.6" y2="253.6" stroke="#444" stroke-width="0.6"/>
<text x="381.7" y="255.1" font-size="4.6" text-anchor="end" fill="#3a3a3a" style="stroke:#555;stroke-width:0.06px">80</text>
<line x1="402" x2="402" y1="420.5" y2="421.7" stroke="#444" stroke-width="0.6"/>
<text x="402" y="426.8" font-size="4.6" text-anchor="middle" fill="#3a3a3a" style="stroke:#555;stroke-width:0.06px">24</text>
<line x1="413.5" x2="413.5" y1="420.5" y2="421.7" stroke="#444" stroke-width="0.6"/>
<text x="413.5" y="426.8" font-size="4.6" text-anchor="middle" fill="#3a3a3a" style="stroke:#555;stroke-width:0.06px">23</text>
<line x1="425" x2="425" y1="420.5" y2="421.7" stroke="#444" stroke-width="0.6"/>
<text x="425" y="426.8" font-size="4.6" text-anchor="middle" fill="#3a3a3a" style="stroke:#555;stroke-width:0.06px">22</text>
<line x1="436.5" x2="436.5" y1="420.5" y2="421.7" stroke="#444" stroke-width="0.6"/>
<text x="436.5" y="426.8" font-size="4.6" text-anchor="middle" fill="#3a3a3a" style="stroke:#555;stroke-width:0.06px">21</text>
<line x1="448" x2="448" y1="420.5" y2="421.7" stroke="#444" stroke-width="0.6"/>
<text x="448" y="426.8" font-size="4.6" text-anchor="middle" fill="#3a3a3a" style="stroke:#555;stroke-width:0.06px">20</text>
<line x1="459.5" x2="459.5" y1="420.5" y2="421.7" stroke="#444" stroke-width="0.6"/>
<text x="459.5" y="426.8" font-size="4.6" text-anchor="middle" fill="#3a3a3a" style="stroke:#555;stroke-width:0.06px">19</text>
<line x1="471" x2="471" y1="420.5" y2="421.7" stroke="#444" stroke-width="0.6"/>
<text x="471" y="426.8" font-size="4.6" text-anchor="middle" fill="#3a3a3a" style="stroke:#555;stroke-width:0.06px">18</text>
<line x1="482.5" x2="482.5" y1="420.5" y2="421.7" stroke="#444" stroke-width="0.6"/>
<text x="482.5" y="426.8" font-size="4.6" text-anchor="middle" fill="#3a3a3a" style="stroke:#555;stroke-width:0.06px">17</text>
<line x1="494" x2="494" y1="420.5" y2="421.7" stroke="#444" stroke-width="0.6"/>
<text x="494" y="426.8" font-size="4.6" text-anchor="middle" fill="#3a3a3a" style="stroke:#555;stroke-width:0.06px">16</text>
<line x1="505.5" x2="505.5" y1="420.5" y2="421.7" stroke="#444" stroke-width="0.6"/>
<text x="505.5" y="426.8" font-size="4.6" text-anchor="middle" fill="#3a3a3a" style="stroke:#555;stroke-width:0.06px">15</text>
<line x1="517" x2="517" y1="420.5" y2="421.7" stroke="#444" stroke-width="0.6"/>
<text x="517" y="426.8" font-size="4.6" text-anchor="middle" fill="#3a3a3a" style="stroke:#555;stroke-width:0.06px">14</text>
<line x1="528.5" x2="528.5" y1="420.5" y2="421.7" stroke="#444" stroke-width="0.6"/>
<text x="528.5" y="426.8" font-size="4.6" text-anchor="middle" fill="#3a3a3a" style="stroke:#555;stroke-width:0.06px">13</text>
<line x1="540" x2="540" y1="420.5" y2="421.7" stroke="#444" stroke-width="0.6"/>
<text x="540" y="426.8" font-size="4.6" text-anchor="middle" fill="#3a3a3a" style="stroke:#555;stroke-width:0.06px">12</text>
<line x1="551.5" x2="551.5" y1="420.5" y2="421.7" stroke="#444" stroke-width="0.6"/>
<text x="551.5" y="426.8" font-size="4.6" text-anchor="middle" fill="#3a3a3a" style="stroke:#555;stroke-width:0.06px">11</text>
<line x1="563" x2="563" y1="420.5" y2="421.7" stroke="#444" stroke-width="0.6"/>
<text x="563" y="426.8" font-size="4.6" text-anchor="middle" fill="#3a3a3a" style="stroke:#555;stroke-width:0.06px">10</text>
<line x1="574.5" x2="574.5" y1="420.5" y2="421.7" stroke="#444" stroke-width="0.6"/>
<text x="574.5" y="426.8" font-size="4.6" text-anchor="middle" fill="#3a3a3a" style="stroke:#555;stroke-width:0.06px">9</text>
<line x1="586" x2="586" y1="420.5" y2="421.7" stroke="#444" stroke-width="0.6"/>
<text x="586" y="426.8" font-size="4.6" text-anchor="middle" fill="#3a3a3a" style="stroke:#555;stroke-width:0.06px">8</text>
<line x1="597.5" x2="597.5" y1="420.5" y2="421.7" stroke="#444" stroke-width="0.6"/>
<text x="597.5" y="426.8" font-size="4.6" text-anchor="middle" fill="#3a3a3a" style="stroke:#555;stroke-width:0.06px">7</text>
<line x1="609" x2="609" y1="420.5" y2="421.7" stroke="#444" stroke-width="0.6"/>
<text x="609" y="426.8" font-size="4.6" text-anchor="middle" fill="#3a3a3a" style="stroke:#555;stroke-width:0.06px">6</text>
<line x1="620.5" x2="620.5" y1="420.5" y2="421.7" stroke="#444" stroke-width="0.6"/>
<text x="620.5" y="426.8" font-size="4.6" text-anchor="middle" fill="#3a3a3a" style="stroke:#555;stroke-width:0.06px">5</text>
<line x1="632" x2="632" y1="420.5" y2="421.7" stroke="#444" stroke-width="0.6"/>
<text x="632" y="426.8" font-size="4.6" text-anchor="middle" fill="#3a3a3a" style="stroke:#555;stroke-width:0.06px">4</text>
<line x1="643.5" x2="643.5" y1="420.5" y2="421.7" stroke="#444" stroke-width="0.6"/>
<text x="643.5" y="426.8" font-size="4.6" text-anchor="middle" fill="#3a3a3a" style="stroke:#555;stroke-width:0.06px">3</text>
<line x1="655" x2="655" y1="420.5" y2="421.7" stroke="#444" stroke-width="0.6"/>
<text x="655" y="426.8" font-size="4.6" text-anchor="middle" fill="#3a3a3a" style="stroke:#555;stroke-width:0.06px">2</text>
<line x1="666.5" x2="666.5" y1="420.5" y2="421.7" stroke="#444" stroke-width="0.6"/>
<text x="666.5" y="426.8" font-size="4.6" text-anchor="middle" fill="#3a3a3a" style="stroke:#555;stroke-width:0.06px">1</text>
<text x="534.05" y="436.3" font-size="5.6" text-anchor="middle" fill="#222">Month before death</text>
<text transform="translate(365.5,331.7) rotate(-90)" font-size="5.4" text-anchor="middle" fill="#222"><tspan x="0" y="0">Percentage of subjects with</tspan><tspan x="0" y="5.8">at least one hospitalization</tspan></text>
<text x="440.1" y="232" font-size="6.55" fill="#111">Hospitalizations by age among cancer decedents, with change point</text>
<text x="419.9" y="238.7" font-size="6.55" fill="#111">for all cancer decedents and for specific age groups (65-74, 75-84, 85-94, 95+)</text>
<text x="429.8" y="231.6" font-size="10.5" font-weight="bold" fill="#000">d</text>
<rect x="416.5" y="252.1" width="25.9" height="64.6" fill="#fff" stroke="#ececec" stroke-width="0.6"/>
<line x1="416.5" x2="416.5" y1="252.1" y2="316.7" stroke="#b0b0b0" stroke-width="0.7"/>
<text x="419.4" y="258" font-size="3.6" fill="#333" style="stroke:none">Age</text>
<rect x="419.4" y="260.6" width="8" height="8.3" fill="#cdc673" stroke="#222" stroke-width="0.5"/>
<text x="429.7" y="265.95" font-size="3.9" fill="#333" style="stroke:none">65-74</text>
<rect x="419.4" y="268.9" width="8" height="8.3" fill="#eec900" stroke="#222" stroke-width="0.5"/>
<text x="429.7" y="274.25" font-size="3.9" fill="#333" style="stroke:none">75-84</text>
<rect x="419.4" y="277.2" width="8" height="8.3" fill="#cd6600" stroke="#222" stroke-width="0.5"/>
<text x="429.7" y="282.55" font-size="3.9" fill="#333" style="stroke:none">85-94</text>
<rect x="419.4" y="285.5" width="8" height="8.3" fill="#8b6914" stroke="#222" stroke-width="0.5"/>
<text x="429.7" y="290.85" font-size="3.9" fill="#333" style="stroke:none">95+</text>
<line x1="419.9" x2="426.4" y1="310.6" y2="310.6" stroke="#111" stroke-width="0.7" stroke-dasharray="2.6 1.5"/>
<text x="429.7" y="311.8" font-size="3.9" fill="#333" style="stroke:none">65+</text>
<line x1="24.5" x2="323.4" y1="636.9" y2="636.9" stroke="#e3e3e3" stroke-width="0.8"/>
<line x1="24.5" x2="323.4" y1="626.94" y2="626.94" stroke="#e3e3e3" stroke-width="0.8"/>
<line x1="24.5" x2="323.4" y1="616.98" y2="616.98" stroke="#e3e3e3" stroke-width="0.8"/>
<line x1="24.5" x2="323.4" y1="607.02" y2="607.02" stroke="#e3e3e3" stroke-width="0.8"/>
<line x1="24.5" x2="323.4" y1="597.06" y2="597.06" stroke="#e3e3e3" stroke-width="0.8"/>
<line x1="24.5" x2="323.4" y1="587.1" y2="587.1" stroke="#e3e3e3" stroke-width="0.8"/>
<line x1="24.5" x2="323.4" y1="577.14" y2="577.14" stroke="#e3e3e3" stroke-width="0.8"/>
<line x1="24.5" x2="323.4" y1="567.18" y2="567.18" stroke="#e3e3e3" stroke-width="0.8"/>
<line x1="24.5" x2="323.4" y1="557.22" y2="557.22" stroke="#e3e3e3" stroke-width="0.8"/>
<line x1="24.5" x2="323.4" y1="547.26" y2="547.26" stroke="#e3e3e3" stroke-width="0.8"/>
<line x1="24.5" x2="323.4" y1="537.3" y2="537.3" stroke="#e3e3e3" stroke-width="0.8"/>
<line x1="24.5" x2="323.4" y1="527.34" y2="527.34" stroke="#e3e3e3" stroke-width="0.8"/>
<line x1="24.5" x2="323.4" y1="517.38" y2="517.38" stroke="#e3e3e3" stroke-width="0.8"/>
<line x1="24.5" x2="323.4" y1="507.42" y2="507.42" stroke="#e3e3e3" stroke-width="0.8"/>
<line x1="24.5" x2="323.4" y1="497.46" y2="497.46" stroke="#e3e3e3" stroke-width="0.8"/>
<line x1="24.5" x2="323.4" y1="487.5" y2="487.5" stroke="#e3e3e3" stroke-width="0.8"/>
<line x1="24.5" x2="323.4" y1="477.54" y2="477.54" stroke="#e3e3e3" stroke-width="0.8"/>
<rect x="38.15" y="624.26" width="1.93" height="12.64" fill="#ffff00" stroke="#2a2a2a" stroke-width="0.38"/>
<rect x="40.07" y="625.06" width="1.93" height="11.84" fill="#ffa500" stroke="#2a2a2a" stroke-width="0.38"/>
<rect x="42" y="626.85" width="1.93" height="10.05" fill="#ff0000" stroke="#2a2a2a" stroke-width="0.38"/>
<rect x="43.92" y="629.44" width="1.93" height="7.46" fill="#8b0000" stroke="#2a2a2a" stroke-width="0.38"/>
<rect x="49.65" y="624.26" width="1.93" height="12.64" fill="#ffff00" stroke="#2a2a2a" stroke-width="0.38"/>
<rect x="51.57" y="624.66" width="1.93" height="12.24" fill="#ffa500" stroke="#2a2a2a" stroke-width="0.38"/>
<rect x="53.5" y="626.45" width="1.93" height="10.45" fill="#ff0000" stroke="#2a2a2a" stroke-width="0.38"/>
<rect x="55.42" y="629.84" width="1.93" height="7.06" fill="#8b0000" stroke="#2a2a2a" stroke-width="0.38"/>
<rect x="61.15" y="623.87" width="1.93" height="13.03" fill="#ffff00" stroke="#2a2a2a" stroke-width="0.38"/>
<rect x="63.07" y="624.46" width="1.93" height="12.44" fill="#ffa500" stroke="#2a2a2a" stroke-width="0.38"/>
<rect x="65" y="626.45" width="1.93" height="10.45" fill="#ff0000" stroke="#2a2a2a" stroke-width="0.38"/>
<rect x="66.92" y="629.44" width="1.93" height="7.46" fill="#8b0000" stroke="#2a2a2a" stroke-width="0.38"/>
<rect x="72.65" y="624.26" width="1.93" height="12.64" fill="#ffff00" stroke="#2a2a2a" stroke-width="0.38"/>
<rect x="74.58" y="624.66" width="1.93" height="12.24" fill="#ffa500" stroke="#2a2a2a" stroke-width="0.38"/>
<rect x="76.5" y="626.85" width="1.93" height="10.05" fill="#ff0000" stroke="#2a2a2a" stroke-width="0.38"/>
<rect x="78.43" y="629.44" width="1.93" height="7.46" fill="#8b0000" stroke="#2a2a2a" stroke-width="0.38"/>
<rect x="84.15" y="624.26" width="1.93" height="12.64" fill="#ffff00" stroke="#2a2a2a" stroke-width="0.38"/>
<rect x="86.08" y="624.46" width="1.93" height="12.44" fill="#ffa500" stroke="#2a2a2a" stroke-width="0.38"/>
<rect x="88" y="626.25" width="1.93" height="10.65" fill="#ff0000" stroke="#2a2a2a" stroke-width="0.38"/>
<rect x="89.93" y="629.84" width="1.93" height="7.06" fill="#8b0000" stroke="#2a2a2a" stroke-width="0.38"/>
<rect x="95.65" y="624.66" width="1.93" height="12.24" fill="#ffff00" stroke="#2a2a2a" stroke-width="0.38"/>
<rect x="97.58" y="623.87" width="1.93" height="13.03" fill="#ffa500" stroke="#2a2a2a" stroke-width="0.38"/>
<rect x="99.5" y="626.45" width="1.93" height="10.45" fill="#ff0000" stroke="#2a2a2a" stroke-width="0.38"/>
<rect x="101.43" y="629.84" width="1.93" height="7.06" fill="#8b0000" stroke="#2a2a2a" stroke-width="0.38"/>
<rect x="107.15" y="623.27" width="1.93" height="13.63" fill="#ffff00" stroke="#2a2a2a" stroke-width="0.38"/>
<rect x="109.08" y="623.27" width="1.93" height="13.63" fill="#ffa500" stroke="#2a2a2a" stroke-width="0.38"/>
<rect x="111" y="626.25" width="1.93" height="10.65" fill="#ff0000" stroke="#2a2a2a" stroke-width="0.38"/>
<rect x="112.93" y="629.84" width="1.93" height="7.06" fill="#8b0000" stroke="#2a2a2a" stroke-width="0.38"/>
<rect x="118.65" y="622.87" width="1.93" height="14.03" fill="#ffff00" stroke="#2a2a2a" stroke-width="0.38"/>
<rect x="120.58" y="623.87" width="1.93" height="13.03" fill="#ffa500" stroke="#2a2a2a" stroke-width="0.38"/>
<rect x="122.5" y="626.25" width="1.93" height="10.65" fill="#ff0000" stroke="#2a2a2a" stroke-width="0.38"/>
<rect x="124.43" y="629.44" width="1.93" height="7.46" fill="#8b0000" stroke="#2a2a2a" stroke-width="0.38"/>
<rect x="130.15" y="621.48" width="1.93" height="15.42" fill="#ffff00" stroke="#2a2a2a" stroke-width="0.38"/>
<rect x="132.08" y="624.26" width="1.93" height="12.64" fill="#ffa500" stroke="#2a2a2a" stroke-width="0.38"/>
<rect x="134" y="625.86" width="1.93" height="11.04" fill="#ff0000" stroke="#2a2a2a" stroke-width="0.38"/>
<rect x="135.93" y="629.84" width="1.93" height="7.06" fill="#8b0000" stroke="#2a2a2a" stroke-width="0.38"/>
<rect x="141.65" y="622.87" width="1.93" height="14.03" fill="#ffff00" stroke="#2a2a2a" stroke-width="0.38"/>
<rect x="143.58" y="622.87" width="1.93" height="14.03" fill="#ffa500" stroke="#2a2a2a" stroke-width="0.38"/>
<rect x="145.5" y="625.06" width="1.93" height="11.84" fill="#ff0000" stroke="#2a2a2a" stroke-width="0.38"/>
<rect x="147.43" y="629.84" width="1.93" height="7.06" fill="#8b0000" stroke="#2a2a2a" stroke-width="0.38"/>
<rect x="153.15" y="622.47" width="1.93" height="14.43" fill="#ffff00" stroke="#2a2a2a" stroke-width="0.38"/>
<rect x="155.08" y="622.87" width="1.93" height="14.03" fill="#ffa500" stroke="#2a2a2a" stroke-width="0.38"/>
<rect x="157" y="625.46" width="1.93" height="11.44" fill="#ff0000" stroke="#2a2a2a" stroke-width="0.38"/>
<rect x="158.93" y="629.04" width="1.93" height="7.86" fill="#8b0000" stroke="#2a2a2a" stroke-width="0.38"/>
<rect x="164.65" y="621.48" width="1.93" height="15.42" fill="#ffff00" stroke="#2a2a2a" stroke-width="0.38"/>
<rect x="166.58" y="622.08" width="1.93" height="14.82" fill="#ffa500" stroke="#2a2a2a" stroke-width="0.38"/>
<rect x="168.5" y="625.06" width="1.93" height="11.84" fill="#ff0000" stroke="#2a2a2a" stroke-width="0.38"/>
<rect x="170.43" y="628.64" width="1.93" height="8.26" fill="#8b0000" stroke="#2a2a2a" stroke-width="0.38"/>
<rect x="176.15" y="621.28" width="1.93" height="15.62" fill="#ffff00" stroke="#2a2a2a" stroke-width="0.38"/>
<rect x="178.08" y="620.88" width="1.93" height="16.02" fill="#ffa500" stroke="#2a2a2a" stroke-width="0.38"/>
<rect x="180" y="624.66" width="1.93" height="12.24" fill="#ff0000" stroke="#2a2a2a" stroke-width="0.38"/>
<rect x="181.93" y="628.24" width="1.93" height="8.66" fill="#8b0000" stroke="#2a2a2a" stroke-width="0.38"/>
<rect x="187.65" y="620.28" width="1.93" height="16.62" fill="#ffff00" stroke="#2a2a2a" stroke-width="0.38"/>
<rect x="189.58" y="621.28" width="1.93" height="15.62" fill="#ffa500" stroke="#2a2a2a" stroke-width="0.38"/>
<rect x="191.5" y="623.87" width="1.93" height="13.03" fill="#ff0000" stroke="#2a2a2a" stroke-width="0.38"/>
<rect x="193.43" y="628.64" width="1.93" height="8.26" fill="#8b0000" stroke="#2a2a2a" stroke-width="0.38"/>
<rect x="199.15" y="619.89" width="1.93" height="17.01" fill="#ffff00" stroke="#2a2a2a" stroke-width="0.38"/>
<rect x="201.08" y="620.68" width="1.93" height="16.22" fill="#ffa500" stroke="#2a2a2a" stroke-width="0.38"/>
<rect x="203" y="623.87" width="1.93" height="13.03" fill="#ff0000" stroke="#2a2a2a" stroke-width="0.38"/>
<rect x="204.93" y="629.04" width="1.93" height="7.86" fill="#8b0000" stroke="#2a2a2a" stroke-width="0.38"/>
<rect x="210.65" y="618.89" width="1.93" height="18.01" fill="#ffff00" stroke="#2a2a2a" stroke-width="0.38"/>
<rect x="212.58" y="619.49" width="1.93" height="17.41" fill="#ffa500" stroke="#2a2a2a" stroke-width="0.38"/>
<rect x="214.5" y="622.87" width="1.93" height="14.03" fill="#ff0000" stroke="#2a2a2a" stroke-width="0.38"/>
<rect x="216.43" y="627.65" width="1.93" height="9.25" fill="#8b0000" stroke="#2a2a2a" stroke-width="0.38"/>
<rect x="222.15" y="617.1" width="1.93" height="19.8" fill="#ffff00" stroke="#2a2a2a" stroke-width="0.38"/>
<rect x="224.08" y="618.49" width="1.93" height="18.41" fill="#ffa500" stroke="#2a2a2a" stroke-width="0.38"/>
<rect x="226" y="622.08" width="1.93" height="14.82" fill="#ff0000" stroke="#2a2a2a" stroke-width="0.38"/>
<rect x="227.93" y="627.65" width="1.93" height="9.25" fill="#8b0000" stroke="#2a2a2a" stroke-width="0.38"/>
<rect x="233.65" y="615.91" width="1.93" height="20.99" fill="#ffff00" stroke="#2a2a2a" stroke-width="0.38"/>
<rect x="235.58" y="617.1" width="1.93" height="19.8" fill="#ffa500" stroke="#2a2a2a" stroke-width="0.38"/>
<rect x="237.5" y="620.68" width="1.93" height="16.22" fill="#ff0000" stroke="#2a2a2a" stroke-width="0.38"/>
<rect x="239.43" y="625.86" width="1.93" height="11.04" fill="#8b0000" stroke="#2a2a2a" stroke-width="0.38"/>
<rect x="245.15" y="613.72" width="1.93" height="23.18" fill="#ffff00" stroke="#2a2a2a" stroke-width="0.38"/>
<rect x="247.08" y="615.11" width="1.93" height="21.79" fill="#ffa500" stroke="#2a2a2a" stroke-width="0.38"/>
<rect x="249" y="619.89" width="1.93" height="17.01" fill="#ff0000" stroke="#2a2a2a" stroke-width="0.38"/>
<rect x="250.93" y="625.26" width="1.93" height="11.64" fill="#8b0000" stroke="#2a2a2a" stroke-width="0.38"/>
<rect x="256.65" y="612.12" width="1.93" height="24.77" fill="#ffff00" stroke="#2a2a2a" stroke-width="0.38"/>
<rect x="258.57" y="611.73" width="1.93" height="25.17" fill="#ffa500" stroke="#2a2a2a" stroke-width="0.38"/>
<rect x="260.5" y="616.3" width="1.93" height="20.6" fill="#ff0000" stroke="#2a2a2a" stroke-width="0.38"/>
<rect x="262.42" y="624.86" width="1.93" height="12.04" fill="#8b0000" stroke="#2a2a2a" stroke-width="0.38"/>
<rect x="268.15" y="607.75" width="1.93" height="29.15" fill="#ffff00" stroke="#2a2a2a" stroke-width="0.38"/>
<rect x="270.07" y="606.75" width="1.93" height="30.15" fill="#ffa500" stroke="#2a2a2a" stroke-width="0.38"/>
<rect x="272" y="613.12" width="1.93" height="23.78" fill="#ff0000" stroke="#2a2a2a" stroke-width="0.38"/>
<rect x="273.92" y="621.08" width="1.93" height="15.82" fill="#8b0000" stroke="#2a2a2a" stroke-width="0.38"/>
<rect x="279.65" y="601.58" width="1.93" height="35.32" fill="#ffff00" stroke="#2a2a2a" stroke-width="0.38"/>
<rect x="281.57" y="599.79" width="1.93" height="37.11" fill="#ffa500" stroke="#2a2a2a" stroke-width="0.38"/>
<rect x="283.5" y="606.75" width="1.93" height="30.15" fill="#ff0000" stroke="#2a2a2a" stroke-width="0.38"/>
<rect x="285.42" y="615.31" width="1.93" height="21.59" fill="#8b0000" stroke="#2a2a2a" stroke-width="0.38"/>
<rect x="291.15" y="591.43" width="1.93" height="45.47" fill="#ffff00" stroke="#2a2a2a" stroke-width="0.38"/>
<rect x="293.07" y="586.65" width="1.93" height="50.25" fill="#ffa500" stroke="#2a2a2a" stroke-width="0.38"/>
<rect x="295" y="591.43" width="1.93" height="45.47" fill="#ff0000" stroke="#2a2a2a" stroke-width="0.38"/>
<rect x="296.92" y="602.57" width="1.93" height="34.33" fill="#8b0000" stroke="#2a2a2a" stroke-width="0.38"/>
<rect x="302.65" y="533.32" width="1.93" height="103.58" fill="#ffff00" stroke="#2a2a2a" stroke-width="0.38"/>
<rect x="304.57" y="518.6" width="1.93" height="118.3" fill="#ffa500" stroke="#2a2a2a" stroke-width="0.38"/>
<rect x="306.5" y="527.15" width="1.93" height="109.75" fill="#ff0000" stroke="#2a2a2a" stroke-width="0.38"/>
<rect x="308.42" y="552.82" width="1.93" height="84.08" fill="#8b0000" stroke="#2a2a2a" stroke-width="0.38"/>
<rect x="260.5" y="467" width="17.25" height="177.7" fill="#ffff00" fill-opacity="0.28"/>
<rect x="262.8" y="467" width="14.95" height="177.7" fill="#ffa500" fill-opacity="0.25"/>
<rect x="267.4" y="467" width="11.5" height="177.7" fill="#ff0000" fill-opacity="0.22"/>
<rect x="268.55" y="467" width="10.35" height="177.7" fill="#8b0000" fill-opacity="0.2"/>
<line x1="260.5" x2="260.5" y1="467" y2="644.7" stroke="#f0e000" stroke-width="0.75" stroke-dasharray="1 2.5"/>
<line x1="277.75" x2="277.75" y1="467" y2="644.7" stroke="#f0e000" stroke-width="0.75" stroke-dasharray="1 2.5"/>
<line x1="269.7" x2="269.7" y1="467" y2="644.7" stroke="#f0e000" stroke-width="0.9" stroke-opacity="0.85"/>
<line x1="262.8" x2="262.8" y1="467" y2="644.7" stroke="#ffa500" stroke-width="0.75" stroke-dasharray="1 2.5"/>
<line x1="277.75" x2="277.75" y1="467" y2="644.7" stroke="#ffa500" stroke-width="0.75" stroke-dasharray="1 2.5"/>
<line x1="270.85" x2="270.85" y1="467" y2="644.7" stroke="#ffa500" stroke-width="0.9" stroke-opacity="0.85"/>
<line x1="267.4" x2="267.4" y1="467" y2="644.7" stroke="#ff0000" stroke-width="0.75" stroke-dasharray="1 2.5"/>
<line x1="278.9" x2="278.9" y1="467" y2="644.7" stroke="#ff0000" stroke-width="0.75" stroke-dasharray="1 2.5"/>
<line x1="273.15" x2="273.15" y1="467" y2="644.7" stroke="#ff0000" stroke-width="0.9" stroke-opacity="0.85"/>
<line x1="268.55" x2="268.55" y1="467" y2="644.7" stroke="#8b0000" stroke-width="0.75" stroke-dasharray="1 2.5"/>
<line x1="278.9" x2="278.9" y1="467" y2="644.7" stroke="#8b0000" stroke-width="0.75" stroke-dasharray="1 2.5"/>
<line x1="273.15" x2="273.15" y1="467" y2="644.7" stroke="#8b0000" stroke-width="0.9" stroke-opacity="0.85"/>
<polyline points="42,625.86 53.5,625.75 65,625.64 76.5,625.53 88,625.42 99.5,625.31 111,625.2 122.5,625.09 134,624.98 145.5,624.86 157,624.44 168.5,624 180,623.54 191.5,623.07 203,622.58 214.5,622.08 226,620.88 237.5,619.64 249,618.29 260.5,616.11 272,610.13 283.5,601.58 295,590.24 306.5,533.52" fill="none" stroke="#1a1a1a" stroke-width="0.85" stroke-dasharray="2.5 1.4"/>
<text x="196.9" y="517.53" font-size="5.57" fill="#111">CP 65+: 3.9 (4.5-3.4)</text>
<line x1="266.25" x2="278.9" y1="517.38" y2="517.38" stroke="#111" stroke-width="0.8"/>
<line x1="266.25" x2="266.25" y1="516.48" y2="518.28" stroke="#111" stroke-width="0.6"/>
<line x1="278.9" x2="278.9" y1="516.48" y2="518.28" stroke="#111" stroke-width="0.6"/>
<circle cx="273.15" cy="517.38" r="1.35" fill="#111"/>
<text x="196.9" y="527.49" font-size="5.57" fill="#111">CP 65-74: 4.2 (5.0-3.5)</text>
<line x1="260.5" x2="277.75" y1="527.34" y2="527.34" stroke="#f0e000" stroke-width="0.8"/>
<line x1="260.5" x2="260.5" y1="526.44" y2="528.24" stroke="#f0e000" stroke-width="0.6"/>
<line x1="277.75" x2="277.75" y1="526.44" y2="528.24" stroke="#f0e000" stroke-width="0.6"/>
<text x="196.9" y="537.45" font-size="5.57" fill="#111">CP 75-84: 4.1 (4.8-3.5)</text>
<line x1="262.8" x2="277.75" y1="537.3" y2="537.3" stroke="#ffa500" stroke-width="0.8"/>
<line x1="262.8" x2="262.8" y1="536.4" y2="538.2" stroke="#ffa500" stroke-width="0.6"/>
<line x1="277.75" x2="277.75" y1="536.4" y2="538.2" stroke="#ffa500" stroke-width="0.6"/>
<text x="196.9" y="547.41" font-size="5.57" fill="#111">CP 85-94: 3.9 (4.4-3.4)</text>
<line x1="267.4" x2="278.9" y1="547.26" y2="547.26" stroke="#ff0000" stroke-width="0.8"/>
<line x1="267.4" x2="267.4" y1="546.36" y2="548.16" stroke="#ff0000" stroke-width="0.6"/>
<line x1="278.9" x2="278.9" y1="546.36" y2="548.16" stroke="#ff0000" stroke-width="0.6"/>
<text x="196.9" y="557.37" font-size="5.57" fill="#111">CP 95+: 3.9 (4.3-3.4)</text>
<line x1="268.55" x2="278.9" y1="557.22" y2="557.22" stroke="#8b0000" stroke-width="0.8"/>
<line x1="268.55" x2="268.55" y1="556.32" y2="558.12" stroke="#8b0000" stroke-width="0.6"/>
<line x1="278.9" x2="278.9" y1="556.32" y2="558.12" stroke="#8b0000" stroke-width="0.6"/>
<line x1="24.5" x2="323.4" y1="467" y2="467" stroke="#bdbdbd" stroke-width="0.9"/>
<line x1="323.4" x2="323.4" y1="467" y2="644.7" stroke="#8c8c8c" stroke-width="0.9"/>
<line x1="24.5" x2="24.5" y1="467" y2="644.7" stroke="#555" stroke-width="0.9"/>
<line x1="24.5" x2="323.4" y1="644.7" y2="644.7" stroke="#666" stroke-width="0.9"/>
<line x1="23.3" x2="24.5" y1="636.9" y2="636.9" stroke="#444" stroke-width="0.6"/>
<text x="21.9" y="638.4" font-size="4.6" text-anchor="end" fill="#3a3a3a" style="stroke:#555;stroke-width:0.06px">0</text>
<line x1="23.3" x2="24.5" y1="626.94" y2="626.94" stroke="#444" stroke-width="0.6"/>
<text x="21.9" y="628.44" font-size="4.6" text-anchor="end" fill="#3a3a3a" style="stroke:#555;stroke-width:0.06px">5</text>
<line x1="23.3" x2="24.5" y1="616.98" y2="616.98" stroke="#444" stroke-width="0.6"/>
<text x="21.9" y="618.48" font-size="4.6" text-anchor="end" fill="#3a3a3a" style="stroke:#555;stroke-width:0.06px">10</text>
<line x1="23.3" x2="24.5" y1="607.02" y2="607.02" stroke="#444" stroke-width="0.6"/>
<text x="21.9" y="608.52" font-size="4.6" text-anchor="end" fill="#3a3a3a" style="stroke:#555;stroke-width:0.06px">15</text>
<line x1="23.3" x2="24.5" y1="597.06" y2="597.06" stroke="#444" stroke-width="0.6"/>
<text x="21.9" y="598.56" font-size="4.6" text-anchor="end" fill="#3a3a3a" style="stroke:#555;stroke-width:0.06px">20</text>
<line x1="23.3" x2="24.5" y1="587.1" y2="587.1" stroke="#444" stroke-width="0.6"/>
<text x="21.9" y="588.6" font-size="4.6" text-anchor="end" fill="#3a3a3a" style="stroke:#555;stroke-width:0.06px">25</text>
<line x1="23.3" x2="24.5" y1="577.14" y2="577.14" stroke="#444" stroke-width="0.6"/>
<text x="21.9" y="578.64" font-size="4.6" text-anchor="end" fill="#3a3a3a" style="stroke:#555;stroke-width:0.06px">30</text>
<line x1="23.3" x2="24.5" y1="567.18" y2="567.18" stroke="#444" stroke-width="0.6"/>
<text x="21.9" y="568.68" font-size="4.6" text-anchor="end" fill="#3a3a3a" style="stroke:#555;stroke-width:0.06px">35</text>
<line x1="23.3" x2="24.5" y1="557.22" y2="557.22" stroke="#444" stroke-width="0.6"/>
<text x="21.9" y="558.72" font-size="4.6" text-anchor="end" fill="#3a3a3a" style="stroke:#555;stroke-width:0.06px">40</text>
<line x1="23.3" x2="24.5" y1="547.26" y2="547.26" stroke="#444" stroke-width="0.6"/>
<text x="21.9" y="548.76" font-size="4.6" text-anchor="end" fill="#3a3a3a" style="stroke:#555;stroke-width:0.06px">45</text>
<line x1="23.3" x2="24.5" y1="537.3" y2="537.3" stroke="#444" stroke-width="0.6"/>
<text x="21.9" y="538.8" font-size="4.6" text-anchor="end" fill="#3a3a3a" style="stroke:#555;stroke-width:0.06px">50</text>
<line x1="23.3" x2="24.5" y1="527.34" y2="527.34" stroke="#444" stroke-width="0.6"/>
<text x="21.9" y="528.84" font-size="4.6" text-anchor="end" fill="#3a3a3a" style="stroke:#555;stroke-width:0.06px">55</text>
<line x1="23.3" x2="24.5" y1="517.38" y2="517.38" stroke="#444" stroke-width="0.6"/>
<text x="21.9" y="518.88" font-size="4.6" text-anchor="end" fill="#3a3a3a" style="stroke:#555;stroke-width:0.06px">60</text>
<line x1="23.3" x2="24.5" y1="507.42" y2="507.42" stroke="#444" stroke-width="0.6"/>
<text x="21.9" y="508.92" font-size="4.6" text-anchor="end" fill="#3a3a3a" style="stroke:#555;stroke-width:0.06px">65</text>
<line x1="23.3" x2="24.5" y1="497.46" y2="497.46" stroke="#444" stroke-width="0.6"/>
<text x="21.9" y="498.96" font-size="4.6" text-anchor="end" fill="#3a3a3a" style="stroke:#555;stroke-width:0.06px">70</text>
<line x1="23.3" x2="24.5" y1="487.5" y2="487.5" stroke="#444" stroke-width="0.6"/>
<text x="21.9" y="489" font-size="4.6" text-anchor="end" fill="#3a3a3a" style="stroke:#555;stroke-width:0.06px">75</text>
<line x1="23.3" x2="24.5" y1="477.54" y2="477.54" stroke="#444" stroke-width="0.6"/>
<text x="21.9" y="479.04" font-size="4.6" text-anchor="end" fill="#3a3a3a" style="stroke:#555;stroke-width:0.06px">80</text>
<line x1="42" x2="42" y1="644.7" y2="645.9" stroke="#444" stroke-width="0.6"/>
<text x="42" y="651" font-size="4.6" text-anchor="middle" fill="#3a3a3a" style="stroke:#555;stroke-width:0.06px">24</text>
<line x1="53.5" x2="53.5" y1="644.7" y2="645.9" stroke="#444" stroke-width="0.6"/>
<text x="53.5" y="651" font-size="4.6" text-anchor="middle" fill="#3a3a3a" style="stroke:#555;stroke-width:0.06px">23</text>
<line x1="65" x2="65" y1="644.7" y2="645.9" stroke="#444" stroke-width="0.6"/>
<text x="65" y="651" font-size="4.6" text-anchor="middle" fill="#3a3a3a" style="stroke:#555;stroke-width:0.06px">22</text>
<line x1="76.5" x2="76.5" y1="644.7" y2="645.9" stroke="#444" stroke-width="0.6"/>
<text x="76.5" y="651" font-size="4.6" text-anchor="middle" fill="#3a3a3a" style="stroke:#555;stroke-width:0.06px">21</text>
<line x1="88" x2="88" y1="644.7" y2="645.9" stroke="#444" stroke-width="0.6"/>
<text x="88" y="651" font-size="4.6" text-anchor="middle" fill="#3a3a3a" style="stroke:#555;stroke-width:0.06px">20</text>
<line x1="99.5" x2="99.5" y1="644.7" y2="645.9" stroke="#444" stroke-width="0.6"/>
<text x="99.5" y="651" font-size="4.6" text-anchor="middle" fill="#3a3a3a" style="stroke:#555;stroke-width:0.06px">19</text>
<line x1="111" x2="111" y1="644.7" y2="645.9" stroke="#444" stroke-width="0.6"/>
<text x="111" y="651" font-size="4.6" text-anchor="middle" fill="#3a3a3a" style="stroke:#555;stroke-width:0.06px">18</text>
<line x1="122.5" x2="122.5" y1="644.7" y2="645.9" stroke="#444" stroke-width="0.6"/>
<text x="122.5" y="651" font-size="4.6" text-anchor="middle" fill="#3a3a3a" style="stroke:#555;stroke-width:0.06px">17</text>
<line x1="134" x2="134" y1="644.7" y2="645.9" stroke="#444" stroke-width="0.6"/>
<text x="134" y="651" font-size="4.6" text-anchor="middle" fill="#3a3a3a" style="stroke:#555;stroke-width:0.06px">16</text>
<line x1="145.5" x2="145.5" y1="644.7" y2="645.9" stroke="#444" stroke-width="0.6"/>
<text x="145.5" y="651" font-size="4.6" text-anchor="middle" fill="#3a3a3a" style="stroke:#555;stroke-width:0.06px">15</text>
<line x1="157" x2="157" y1="644.7" y2="645.9" stroke="#444" stroke-width="0.6"/>
<text x="157" y="651" font-size="4.6" text-anchor="middle" fill="#3a3a3a" style="stroke:#555;stroke-width:0.06px">14</text>
<line x1="168.5" x2="168.5" y1="644.7" y2="645.9" stroke="#444" stroke-width="0.6"/>
<text x="168.5" y="651" font-size="4.6" text-anchor="middle" fill="#3a3a3a" style="stroke:#555;stroke-width:0.06px">13</text>
<line x1="180" x2="180" y1="644.7" y2="645.9" stroke="#444" stroke-width="0.6"/>
<text x="180" y="651" font-size="4.6" text-anchor="middle" fill="#3a3a3a" style="stroke:#555;stroke-width:0.06px">12</text>
<line x1="191.5" x2="191.5" y1="644.7" y2="645.9" stroke="#444" stroke-width="0.6"/>
<text x="191.5" y="651" font-size="4.6" text-anchor="middle" fill="#3a3a3a" style="stroke:#555;stroke-width:0.06px">11</text>
<line x1="203" x2="203" y1="644.7" y2="645.9" stroke="#444" stroke-width="0.6"/>
<text x="203" y="651" font-size="4.6" text-anchor="middle" fill="#3a3a3a" style="stroke:#555;stroke-width:0.06px">10</text>
<line x1="214.5" x2="214.5" y1="644.7" y2="645.9" stroke="#444" stroke-width="0.6"/>
<text x="214.5" y="651" font-size="4.6" text-anchor="middle" fill="#3a3a3a" style="stroke:#555;stroke-width:0.06px">9</text>
<line x1="226" x2="226" y1="644.7" y2="645.9" stroke="#444" stroke-width="0.6"/>
<text x="226" y="651" font-size="4.6" text-anchor="middle" fill="#3a3a3a" style="stroke:#555;stroke-width:0.06px">8</text>
<line x1="237.5" x2="237.5" y1="644.7" y2="645.9" stroke="#444" stroke-width="0.6"/>
<text x="237.5" y="651" font-size="4.6" text-anchor="middle" fill="#3a3a3a" style="stroke:#555;stroke-width:0.06px">7</text>
<line x1="249" x2="249" y1="644.7" y2="645.9" stroke="#444" stroke-width="0.6"/>
<text x="249" y="651" font-size="4.6" text-anchor="middle" fill="#3a3a3a" style="stroke:#555;stroke-width:0.06px">6</text>
<line x1="260.5" x2="260.5" y1="644.7" y2="645.9" stroke="#444" stroke-width="0.6"/>
<text x="260.5" y="651" font-size="4.6" text-anchor="middle" fill="#3a3a3a" style="stroke:#555;stroke-width:0.06px">5</text>
<line x1="272" x2="272" y1="644.7" y2="645.9" stroke="#444" stroke-width="0.6"/>
<text x="272" y="651" font-size="4.6" text-anchor="middle" fill="#3a3a3a" style="stroke:#555;stroke-width:0.06px">4</text>
<line x1="283.5" x2="283.5" y1="644.7" y2="645.9" stroke="#444" stroke-width="0.6"/>
<text x="283.5" y="651" font-size="4.6" text-anchor="middle" fill="#3a3a3a" style="stroke:#555;stroke-width:0.06px">3</text>
<line x1="295" x2="295" y1="644.7" y2="645.9" stroke="#444" stroke-width="0.6"/>
<text x="295" y="651" font-size="4.6" text-anchor="middle" fill="#3a3a3a" style="stroke:#555;stroke-width:0.06px">2</text>
<line x1="306.5" x2="306.5" y1="644.7" y2="645.9" stroke="#444" stroke-width="0.6"/>
<text x="306.5" y="651" font-size="4.6" text-anchor="middle" fill="#3a3a3a" style="stroke:#555;stroke-width:0.06px">1</text>
<text x="173.95" y="660.5" font-size="5.6" text-anchor="middle" fill="#222">Month before death</text>
<text transform="translate(4.6,555.85) rotate(-90)" font-size="5.4" text-anchor="middle" fill="#222"><tspan x="0" y="0">Percentage of subjects with</tspan><tspan x="0" y="5.8">at least one hospitalization</tspan></text>
<text x="47.5" y="456.3" font-size="6.55" fill="#111">Hospitalizations by age among decedents from cardiovascular diseases, with change point</text>
<text x="48.7" y="463.1" font-size="6.55" fill="#111">for all cardiovascular decedents and for specific age groups (65-74, 75-84, 85-94, 95+)</text>
<text x="37.4" y="457" font-size="10.5" font-weight="bold" fill="#000">e</text>
<rect x="56.9" y="476.4" width="25.7" height="64.9" fill="#fff" stroke="#ececec" stroke-width="0.6"/>
<line x1="56.9" x2="56.9" y1="476.4" y2="541.3" stroke="#b0b0b0" stroke-width="0.7"/>
<text x="59.6" y="482.6" font-size="3.6" fill="#333" style="stroke:none">Age</text>
<rect x="59.6" y="485.2" width="7.9" height="8.3" fill="#ffff00" stroke="#222" stroke-width="0.5"/>
<text x="69.8" y="490.55" font-size="3.9" fill="#333" style="stroke:none">65-74</text>
<rect x="59.6" y="493.5" width="7.9" height="8.3" fill="#ffa500" stroke="#222" stroke-width="0.5"/>
<text x="69.8" y="498.85" font-size="3.9" fill="#333" style="stroke:none">75-84</text>
<rect x="59.6" y="501.8" width="7.9" height="8.3" fill="#ff0000" stroke="#222" stroke-width="0.5"/>
<text x="69.8" y="507.15" font-size="3.9" fill="#333" style="stroke:none">85-94</text>
<rect x="59.6" y="510.1" width="7.9" height="8.3" fill="#8b0000" stroke="#222" stroke-width="0.5"/>
<text x="69.8" y="515.45" font-size="3.9" fill="#333" style="stroke:none">95+</text>
<line x1="60.1" x2="66.5" y1="534.8" y2="534.8" stroke="#111" stroke-width="0.7" stroke-dasharray="2.6 1.5"/>
<text x="69.8" y="536" font-size="3.9" fill="#333" style="stroke:none">65+</text>
<line x1="384.3" x2="683.8" y1="636.9" y2="636.9" stroke="#e3e3e3" stroke-width="0.8"/>
<line x1="384.3" x2="683.8" y1="626.94" y2="626.94" stroke="#e3e3e3" stroke-width="0.8"/>
<line x1="384.3" x2="683.8" y1="616.98" y2="616.98" stroke="#e3e3e3" stroke-width="0.8"/>
<line x1="384.3" x2="683.8" y1="607.02" y2="607.02" stroke="#e3e3e3" stroke-width="0.8"/>
<line x1="384.3" x2="683.8" y1="597.06" y2="597.06" stroke="#e3e3e3" stroke-width="0.8"/>
<line x1="384.3" x2="683.8" y1="587.1" y2="587.1" stroke="#e3e3e3" stroke-width="0.8"/>
<line x1="384.3" x2="683.8" y1="577.14" y2="577.14" stroke="#e3e3e3" stroke-width="0.8"/>
<line x1="384.3" x2="683.8" y1="567.18" y2="567.18" stroke="#e3e3e3" stroke-width="0.8"/>
<line x1="384.3" x2="683.8" y1="557.22" y2="557.22" stroke="#e3e3e3" stroke-width="0.8"/>
<line x1="384.3" x2="683.8" y1="547.26" y2="547.26" stroke="#e3e3e3" stroke-width="0.8"/>
<line x1="384.3" x2="683.8" y1="537.3" y2="537.3" stroke="#e3e3e3" stroke-width="0.8"/>
<line x1="384.3" x2="683.8" y1="527.34" y2="527.34" stroke="#e3e3e3" stroke-width="0.8"/>
<line x1="384.3" x2="683.8" y1="517.38" y2="517.38" stroke="#e3e3e3" stroke-width="0.8"/>
<line x1="384.3" x2="683.8" y1="507.42" y2="507.42" stroke="#e3e3e3" stroke-width="0.8"/>
<line x1="384.3" x2="683.8" y1="497.46" y2="497.46" stroke="#e3e3e3" stroke-width="0.8"/>
<line x1="384.3" x2="683.8" y1="487.5" y2="487.5" stroke="#e3e3e3" stroke-width="0.8"/>
<line x1="384.3" x2="683.8" y1="477.54" y2="477.54" stroke="#e3e3e3" stroke-width="0.8"/>
<rect x="398.15" y="617.2" width="1.93" height="19.7" fill="#87cefa" stroke="#2a2a2a" stroke-width="0.38"/>
<rect x="400.07" y="622" width="1.93" height="14.9" fill="#4169e1" stroke="#2a2a2a" stroke-width="0.38"/>
<rect x="402" y="626" width="1.93" height="10.9" fill="#6a5acd" stroke="#2a2a2a" stroke-width="0.38"/>
<rect x="403.92" y="629.6" width="1.93" height="7.3" fill="#00008b" stroke="#2a2a2a" stroke-width="0.38"/>
<rect x="409.65" y="616" width="1.93" height="20.9" fill="#87cefa" stroke="#2a2a2a" stroke-width="0.38"/>
<rect x="411.57" y="621.2" width="1.93" height="15.7" fill="#4169e1" stroke="#2a2a2a" stroke-width="0.38"/>
<rect x="413.5" y="625.2" width="1.93" height="11.7" fill="#6a5acd" stroke="#2a2a2a" stroke-width="0.38"/>
<rect x="415.42" y="629.2" width="1.93" height="7.7" fill="#00008b" stroke="#2a2a2a" stroke-width="0.38"/>
<rect x="421.15" y="616" width="1.93" height="20.9" fill="#87cefa" stroke="#2a2a2a" stroke-width="0.38"/>
<rect x="423.07" y="620.8" width="1.93" height="16.1" fill="#4169e1" stroke="#2a2a2a" stroke-width="0.38"/>
<rect x="425" y="624.6" width="1.93" height="12.3" fill="#6a5acd" stroke="#2a2a2a" stroke-width="0.38"/>
<rect x="426.92" y="627.6" width="1.93" height="9.3" fill="#00008b" stroke="#2a2a2a" stroke-width="0.38"/>
<rect x="432.65" y="614.6" width="1.93" height="22.3" fill="#87cefa" stroke="#2a2a2a" stroke-width="0.38"/>
<rect x="434.57" y="621.6" width="1.93" height="15.3" fill="#4169e1" stroke="#2a2a2a" stroke-width="0.38"/>
<rect x="436.5" y="625.2" width="1.93" height="11.7" fill="#6a5acd" stroke="#2a2a2a" stroke-width="0.38"/>
<rect x="438.42" y="629.6" width="1.93" height="7.3" fill="#00008b" stroke="#2a2a2a" stroke-width="0.38"/>
<rect x="444.15" y="613.6" width="1.93" height="23.3" fill="#87cefa" stroke="#2a2a2a" stroke-width="0.38"/>
<rect x="446.07" y="621.2" width="1.93" height="15.7" fill="#4169e1" stroke="#2a2a2a" stroke-width="0.38"/>
<rect x="448" y="625.6" width="1.93" height="11.3" fill="#6a5acd" stroke="#2a2a2a" stroke-width="0.38"/>
<rect x="449.92" y="629.2" width="1.93" height="7.7" fill="#00008b" stroke="#2a2a2a" stroke-width="0.38"/>
<rect x="455.65" y="614.6" width="1.93" height="22.3" fill="#87cefa" stroke="#2a2a2a" stroke-width="0.38"/>
<rect x="457.57" y="620.8" width="1.93" height="16.1" fill="#4169e1" stroke="#2a2a2a" stroke-width="0.38"/>
<rect x="459.5" y="626" width="1.93" height="10.9" fill="#6a5acd" stroke="#2a2a2a" stroke-width="0.38"/>
<rect x="461.42" y="627.6" width="1.93" height="9.3" fill="#00008b" stroke="#2a2a2a" stroke-width="0.38"/>
<rect x="467.15" y="614.6" width="1.93" height="22.3" fill="#87cefa" stroke="#2a2a2a" stroke-width="0.38"/>
<rect x="469.07" y="621.2" width="1.93" height="15.7" fill="#4169e1" stroke="#2a2a2a" stroke-width="0.38"/>
<rect x="471" y="625.2" width="1.93" height="11.7" fill="#6a5acd" stroke="#2a2a2a" stroke-width="0.38"/>
<rect x="472.92" y="629.2" width="1.93" height="7.7" fill="#00008b" stroke="#2a2a2a" stroke-width="0.38"/>
<rect x="478.65" y="615" width="1.93" height="21.9" fill="#87cefa" stroke="#2a2a2a" stroke-width="0.38"/>
<rect x="480.57" y="621.2" width="1.93" height="15.7" fill="#4169e1" stroke="#2a2a2a" stroke-width="0.38"/>
<rect x="482.5" y="625.6" width="1.93" height="11.3" fill="#6a5acd" stroke="#2a2a2a" stroke-width="0.38"/>
<rect x="484.42" y="626.4" width="1.93" height="10.5" fill="#00008b" stroke="#2a2a2a" stroke-width="0.38"/>
<rect x="490.15" y="616.2" width="1.93" height="20.7" fill="#87cefa" stroke="#2a2a2a" stroke-width="0.38"/>
<rect x="492.07" y="620" width="1.93" height="16.9" fill="#4169e1" stroke="#2a2a2a" stroke-width="0.38"/>
<rect x="494" y="625.2" width="1.93" height="11.7" fill="#6a5acd" stroke="#2a2a2a" stroke-width="0.38"/>
<rect x="495.92" y="629.2" width="1.93" height="7.7" fill="#00008b" stroke="#2a2a2a" stroke-width="0.38"/>
<rect x="501.65" y="615.2" width="1.93" height="21.7" fill="#87cefa" stroke="#2a2a2a" stroke-width="0.38"/>
<rect x="503.57" y="619.2" width="1.93" height="17.7" fill="#4169e1" stroke="#2a2a2a" stroke-width="0.38"/>
<rect x="505.5" y="625.2" width="1.93" height="11.7" fill="#6a5acd" stroke="#2a2a2a" stroke-width="0.38"/>
<rect x="507.42" y="629.8" width="1.93" height="7.1" fill="#00008b" stroke="#2a2a2a" stroke-width="0.38"/>
<rect x="513.15" y="611.4" width="1.93" height="25.5" fill="#87cefa" stroke="#2a2a2a" stroke-width="0.38"/>
<rect x="515.07" y="619.2" width="1.93" height="17.7" fill="#4169e1" stroke="#2a2a2a" stroke-width="0.38"/>
<rect x="517" y="625.2" width="1.93" height="11.7" fill="#6a5acd" stroke="#2a2a2a" stroke-width="0.38"/>
<rect x="518.92" y="628.8" width="1.93" height="8.1" fill="#00008b" stroke="#2a2a2a" stroke-width="0.38"/>
<rect x="524.65" y="613" width="1.93" height="23.9" fill="#87cefa" stroke="#2a2a2a" stroke-width="0.38"/>
<rect x="526.57" y="617" width="1.93" height="19.9" fill="#4169e1" stroke="#2a2a2a" stroke-width="0.38"/>
<rect x="528.5" y="624" width="1.93" height="12.9" fill="#6a5acd" stroke="#2a2a2a" stroke-width="0.38"/>
<rect x="530.42" y="628" width="1.93" height="8.9" fill="#00008b" stroke="#2a2a2a" stroke-width="0.38"/>
<rect x="536.15" y="612" width="1.93" height="24.9" fill="#87cefa" stroke="#2a2a2a" stroke-width="0.38"/>
<rect x="538.07" y="617" width="1.93" height="19.9" fill="#4169e1" stroke="#2a2a2a" stroke-width="0.38"/>
<rect x="540" y="623" width="1.93" height="13.9" fill="#6a5acd" stroke="#2a2a2a" stroke-width="0.38"/>
<rect x="541.92" y="627.2" width="1.93" height="9.7" fill="#00008b" stroke="#2a2a2a" stroke-width="0.38"/>
<rect x="547.65" y="612" width="1.93" height="24.9" fill="#87cefa" stroke="#2a2a2a" stroke-width="0.38"/>
<rect x="549.57" y="617.2" width="1.93" height="19.7" fill="#4169e1" stroke="#2a2a2a" stroke-width="0.38"/>
<rect x="551.5" y="623" width="1.93" height="13.9" fill="#6a5acd" stroke="#2a2a2a" stroke-width="0.38"/>
<rect x="553.42" y="628" width="1.93" height="8.9" fill="#00008b" stroke="#2a2a2a" stroke-width="0.38"/>
<rect x="559.15" y="610" width="1.93" height="26.9" fill="#87cefa" stroke="#2a2a2a" stroke-width="0.38"/>
<rect x="561.07" y="615" width="1.93" height="21.9" fill="#4169e1" stroke="#2a2a2a" stroke-width="0.38"/>
<rect x="563" y="622.2" width="1.93" height="14.7" fill="#6a5acd" stroke="#2a2a2a" stroke-width="0.38"/>
<rect x="564.92" y="627" width="1.93" height="9.9" fill="#00008b" stroke="#2a2a2a" stroke-width="0.38"/>
<rect x="570.65" y="610.2" width="1.93" height="26.7" fill="#87cefa" stroke="#2a2a2a" stroke-width="0.38"/>
<rect x="572.57" y="615.6" width="1.93" height="21.3" fill="#4169e1" stroke="#2a2a2a" stroke-width="0.38"/>
<rect x="574.5" y="621.2" width="1.93" height="15.7" fill="#6a5acd" stroke="#2a2a2a" stroke-width="0.38"/>
<rect x="576.42" y="629" width="1.93" height="7.9" fill="#00008b" stroke="#2a2a2a" stroke-width="0.38"/>
<rect x="582.15" y="610.2" width="1.93" height="26.7" fill="#87cefa" stroke="#2a2a2a" stroke-width="0.38"/>
<rect x="584.07" y="613.8" width="1.93" height="23.1" fill="#4169e1" stroke="#2a2a2a" stroke-width="0.38"/>
<rect x="586" y="620.4" width="1.93" height="16.5" fill="#6a5acd" stroke="#2a2a2a" stroke-width="0.38"/>
<rect x="587.92" y="627" width="1.93" height="9.9" fill="#00008b" stroke="#2a2a2a" stroke-width="0.38"/>
<rect x="593.65" y="609" width="1.93" height="27.9" fill="#87cefa" stroke="#2a2a2a" stroke-width="0.38"/>
<rect x="595.57" y="612.8" width="1.93" height="24.1" fill="#4169e1" stroke="#2a2a2a" stroke-width="0.38"/>
<rect x="597.5" y="619.2" width="1.93" height="17.7" fill="#6a5acd" stroke="#2a2a2a" stroke-width="0.38"/>
<rect x="599.42" y="625.6" width="1.93" height="11.3" fill="#00008b" stroke="#2a2a2a" stroke-width="0.38"/>
<rect x="605.15" y="601.2" width="1.93" height="35.7" fill="#87cefa" stroke="#2a2a2a" stroke-width="0.38"/>
<rect x="607.07" y="609" width="1.93" height="27.9" fill="#4169e1" stroke="#2a2a2a" stroke-width="0.38"/>
<rect x="609" y="618.4" width="1.93" height="18.5" fill="#6a5acd" stroke="#2a2a2a" stroke-width="0.38"/>
<rect x="610.92" y="624.4" width="1.93" height="12.5" fill="#00008b" stroke="#2a2a2a" stroke-width="0.38"/>
<rect x="616.65" y="596.6" width="1.93" height="40.3" fill="#87cefa" stroke="#2a2a2a" stroke-width="0.38"/>
<rect x="618.57" y="604.8" width="1.93" height="32.1" fill="#4169e1" stroke="#2a2a2a" stroke-width="0.38"/>
<rect x="620.5" y="618.2" width="1.93" height="18.7" fill="#6a5acd" stroke="#2a2a2a" stroke-width="0.38"/>
<rect x="622.42" y="623.6" width="1.93" height="13.3" fill="#00008b" stroke="#2a2a2a" stroke-width="0.38"/>
<rect x="628.15" y="590.6" width="1.93" height="46.3" fill="#87cefa" stroke="#2a2a2a" stroke-width="0.38"/>
<rect x="630.07" y="599.6" width="1.93" height="37.3" fill="#4169e1" stroke="#2a2a2a" stroke-width="0.38"/>
<rect x="632" y="613.8" width="1.93" height="23.1" fill="#6a5acd" stroke="#2a2a2a" stroke-width="0.38"/>
<rect x="633.92" y="620.8" width="1.93" height="16.1" fill="#00008b" stroke="#2a2a2a" stroke-width="0.38"/>
<rect x="639.65" y="582.2" width="1.93" height="54.7" fill="#87cefa" stroke="#2a2a2a" stroke-width="0.38"/>
<rect x="641.57" y="592" width="1.93" height="44.9" fill="#4169e1" stroke="#2a2a2a" stroke-width="0.38"/>
<rect x="643.5" y="603" width="1.93" height="33.9" fill="#6a5acd" stroke="#2a2a2a" stroke-width="0.38"/>
<rect x="645.42" y="617.6" width="1.93" height="19.3" fill="#00008b" stroke="#2a2a2a" stroke-width="0.38"/>
<rect x="651.15" y="562" width="1.93" height="74.9" fill="#87cefa" stroke="#2a2a2a" stroke-width="0.38"/>
<rect x="653.07" y="570.6" width="1.93" height="66.3" fill="#4169e1" stroke="#2a2a2a" stroke-width="0.38"/>
<rect x="655" y="588.2" width="1.93" height="48.7" fill="#6a5acd" stroke="#2a2a2a" stroke-width="0.38"/>
<rect x="656.92" y="607.4" width="1.93" height="29.5" fill="#00008b" stroke="#2a2a2a" stroke-width="0.38"/>
<rect x="662.65" y="477.2" width="1.93" height="159.7" fill="#87cefa" stroke="#2a2a2a" stroke-width="0.38"/>
<rect x="664.57" y="475.2" width="1.93" height="161.7" fill="#4169e1" stroke="#2a2a2a" stroke-width="0.38"/>
<rect x="666.5" y="483.4" width="1.93" height="153.5" fill="#6a5acd" stroke="#2a2a2a" stroke-width="0.38"/>
<rect x="668.42" y="504.6" width="1.93" height="132.3" fill="#00008b" stroke="#2a2a2a" stroke-width="0.38"/>
<rect x="617.05" y="467" width="16.1" height="177.7" fill="#87cefa" fill-opacity="0.25"/>
<rect x="628.55" y="467" width="11.5" height="177.7" fill="#4169e1" fill-opacity="0.18"/>
<rect x="640.05" y="467" width="6.9" height="177.7" fill="#6a5acd" fill-opacity="0.22"/>
<rect x="645.8" y="467" width="3.45" height="177.7" fill="#00008b" fill-opacity="0.25"/>
<line x1="617.05" x2="617.05" y1="467" y2="644.7" stroke="#87cefa" stroke-width="0.75" stroke-dasharray="1 2.5"/>
<line x1="633.15" x2="633.15" y1="467" y2="644.7" stroke="#87cefa" stroke-width="0.75" stroke-dasharray="1 2.5"/>
<line x1="625.1" x2="625.1" y1="467" y2="644.7" stroke="#87cefa" stroke-width="0.9" stroke-opacity="0.85"/>
<line x1="628.55" x2="628.55" y1="467" y2="644.7" stroke="#4169e1" stroke-width="0.75" stroke-dasharray="1 2.5"/>
<line x1="640.05" x2="640.05" y1="467" y2="644.7" stroke="#4169e1" stroke-width="0.75" stroke-dasharray="1 2.5"/>
<line x1="634.3" x2="634.3" y1="467" y2="644.7" stroke="#4169e1" stroke-width="0.9" stroke-opacity="0.85"/>
<line x1="640.05" x2="640.05" y1="467" y2="644.7" stroke="#6a5acd" stroke-width="0.75" stroke-dasharray="1 2.5"/>
<line x1="646.95" x2="646.95" y1="467" y2="644.7" stroke="#6a5acd" stroke-width="0.75" stroke-dasharray="1 2.5"/>
<line x1="643.5" x2="643.5" y1="467" y2="644.7" stroke="#6a5acd" stroke-width="0.9" stroke-opacity="0.85"/>
<line x1="645.8" x2="645.8" y1="467" y2="644.7" stroke="#2a2aa0" stroke-width="0.75" stroke-dasharray="1 2.5"/>
<line x1="649.25" x2="649.25" y1="467" y2="644.7" stroke="#2a2aa0" stroke-width="0.75" stroke-dasharray="1 2.5"/>
<line x1="646.95" x2="646.95" y1="467" y2="644.7" stroke="#2a2aa0" stroke-width="0.9" stroke-opacity="0.85"/>
<polyline points="402,624 413.5,623.87 425,623.74 436.5,623.61 448,623.48 459.5,623.35 471,623.21 482.5,623.08 494,622.94 505.5,622.8 517,622.21 528.5,621.6 540,620.96 551.5,620.29 563,619.6 574.5,618.42 586,617.17 597.5,615.83 609,614.4 620.5,612.6 632,607.4 643.5,599.6 655,581.6 666.5,487.8" fill="none" stroke="#1a1a1a" stroke-width="0.85" stroke-dasharray="2.5 1.4"/>
<text x="554.1" y="517.53" font-size="5.57" fill="#111">CP 65+: 3.5 (3.9-3.1)</text>
<line x1="633.15" x2="642.35" y1="517.38" y2="517.38" stroke="#111" stroke-width="0.8"/>
<line x1="633.15" x2="633.15" y1="516.48" y2="518.28" stroke="#111" stroke-width="0.6"/>
<line x1="642.35" x2="642.35" y1="516.48" y2="518.28" stroke="#111" stroke-width="0.6"/>
<circle cx="637.75" cy="517.38" r="1.35" fill="#111"/>
<text x="554.1" y="527.49" font-size="5.57" fill="#111">CP 65-74: 4.6 (5.3-3.9)</text>
<line x1="617.05" x2="633.15" y1="527.34" y2="527.34" stroke="#87cefa" stroke-width="0.8"/>
<line x1="617.05" x2="617.05" y1="526.44" y2="528.24" stroke="#87cefa" stroke-width="0.6"/>
<line x1="633.15" x2="633.15" y1="526.44" y2="528.24" stroke="#87cefa" stroke-width="0.6"/>
<text x="554.1" y="537.45" font-size="5.57" fill="#111">CP 75-84: 3.8 (4.3-3.3)</text>
<line x1="628.55" x2="640.05" y1="537.3" y2="537.3" stroke="#4169e1" stroke-width="0.8"/>
<line x1="628.55" x2="628.55" y1="536.4" y2="538.2" stroke="#4169e1" stroke-width="0.6"/>
<line x1="640.05" x2="640.05" y1="536.4" y2="538.2" stroke="#4169e1" stroke-width="0.6"/>
<text x="554.1" y="547.41" font-size="5.57" fill="#111">CP 85-94: 3.0 (3.3-2.7)</text>
<line x1="640.05" x2="646.95" y1="547.26" y2="547.26" stroke="#6a5acd" stroke-width="0.8"/>
<line x1="640.05" x2="640.05" y1="546.36" y2="548.16" stroke="#6a5acd" stroke-width="0.6"/>
<line x1="646.95" x2="646.95" y1="546.36" y2="548.16" stroke="#6a5acd" stroke-width="0.6"/>
<text x="554.1" y="557.37" font-size="5.57" fill="#111">CP 95+: 2.7 (2.8-2.5)</text>
<line x1="645.8" x2="649.25" y1="557.22" y2="557.22" stroke="#2a2aa0" stroke-width="0.8"/>
<line x1="645.8" x2="645.8" y1="556.32" y2="558.12" stroke="#2a2aa0" stroke-width="0.6"/>
<line x1="649.25" x2="649.25" y1="556.32" y2="558.12" stroke="#2a2aa0" stroke-width="0.6"/>
<line x1="384.3" x2="683.8" y1="467" y2="467" stroke="#bdbdbd" stroke-width="0.9"/>
<line x1="683.8" x2="683.8" y1="467" y2="644.7" stroke="#8c8c8c" stroke-width="0.9"/>
<line x1="384.3" x2="384.3" y1="467" y2="644.7" stroke="#555" stroke-width="0.9"/>
<line x1="384.3" x2="683.8" y1="644.7" y2="644.7" stroke="#666" stroke-width="0.9"/>
<line x1="383.1" x2="384.3" y1="636.9" y2="636.9" stroke="#444" stroke-width="0.6"/>
<text x="381.7" y="638.4" font-size="4.6" text-anchor="end" fill="#3a3a3a" style="stroke:#555;stroke-width:0.06px">0</text>
<line x1="383.1" x2="384.3" y1="626.94" y2="626.94" stroke="#444" stroke-width="0.6"/>
<text x="381.7" y="628.44" font-size="4.6" text-anchor="end" fill="#3a3a3a" style="stroke:#555;stroke-width:0.06px">5</text>
<line x1="383.1" x2="384.3" y1="616.98" y2="616.98" stroke="#444" stroke-width="0.6"/>
<text x="381.7" y="618.48" font-size="4.6" text-anchor="end" fill="#3a3a3a" style="stroke:#555;stroke-width:0.06px">10</text>
<line x1="383.1" x2="384.3" y1="607.02" y2="607.02" stroke="#444" stroke-width="0.6"/>
<text x="381.7" y="608.52" font-size="4.6" text-anchor="end" fill="#3a3a3a" style="stroke:#555;stroke-width:0.06px">15</text>
<line x1="383.1" x2="384.3" y1="597.06" y2="597.06" stroke="#444" stroke-width="0.6"/>
<text x="381.7" y="598.56" font-size="4.6" text-anchor="end" fill="#3a3a3a" style="stroke:#555;stroke-width:0.06px">20</text>
<line x1="383.1" x2="384.3" y1="587.1" y2="587.1" stroke="#444" stroke-width="0.6"/>
<text x="381.7" y="588.6" font-size="4.6" text-anchor="end" fill="#3a3a3a" style="stroke:#555;stroke-width:0.06px">25</text>
<line x1="383.1" x2="384.3" y1="577.14" y2="577.14" stroke="#444" stroke-width="0.6"/>
<text x="381.7" y="578.64" font-size="4.6" text-anchor="end" fill="#3a3a3a" style="stroke:#555;stroke-width:0.06px">30</text>
<line x1="383.1" x2="384.3" y1="567.18" y2="567.18" stroke="#444" stroke-width="0.6"/>
<text x="381.7" y="568.68" font-size="4.6" text-anchor="end" fill="#3a3a3a" style="stroke:#555;stroke-width:0.06px">35</text>
<line x1="383.1" x2="384.3" y1="557.22" y2="557.22" stroke="#444" stroke-width="0.6"/>
<text x="381.7" y="558.72" font-size="4.6" text-anchor="end" fill="#3a3a3a" style="stroke:#555;stroke-width:0.06px">40</text>
<line x1="383.1" x2="384.3" y1="547.26" y2="547.26" stroke="#444" stroke-width="0.6"/>
<text x="381.7" y="548.76" font-size="4.6" text-anchor="end" fill="#3a3a3a" style="stroke:#555;stroke-width:0.06px">45</text>
<line x1="383.1" x2="384.3" y1="537.3" y2="537.3" stroke="#444" stroke-width="0.6"/>
<text x="381.7" y="538.8" font-size="4.6" text-anchor="end" fill="#3a3a3a" style="stroke:#555;stroke-width:0.06px">50</text>
<line x1="383.1" x2="384.3" y1="527.34" y2="527.34" stroke="#444" stroke-width="0.6"/>
<text x="381.7" y="528.84" font-size="4.6" text-anchor="end" fill="#3a3a3a" style="stroke:#555;stroke-width:0.06px">55</text>
<line x1="383.1" x2="384.3" y1="517.38" y2="517.38" stroke="#444" stroke-width="0.6"/>
<text x="381.7" y="518.88" font-size="4.6" text-anchor="end" fill="#3a3a3a" style="stroke:#555;stroke-width:0.06px">60</text>
<line x1="383.1" x2="384.3" y1="507.42" y2="507.42" stroke="#444" stroke-width="0.6"/>
<text x="381.7" y="508.92" font-size="4.6" text-anchor="end" fill="#3a3a3a" style="stroke:#555;stroke-width:0.06px">65</text>
<line x1="383.1" x2="384.3" y1="497.46" y2="497.46" stroke="#444" stroke-width="0.6"/>
<text x="381.7" y="498.96" font-size="4.6" text-anchor="end" fill="#3a3a3a" style="stroke:#555;stroke-width:0.06px">70</text>
<line x1="383.1" x2="384.3" y1="487.5" y2="487.5" stroke="#444" stroke-width="0.6"/>
<text x="381.7" y="489" font-size="4.6" text-anchor="end" fill="#3a3a3a" style="stroke:#555;stroke-width:0.06px">75</text>
<line x1="383.1" x2="384.3" y1="477.54" y2="477.54" stroke="#444" stroke-width="0.6"/>
<text x="381.7" y="479.04" font-size="4.6" text-anchor="end" fill="#3a3a3a" style="stroke:#555;stroke-width:0.06px">80</text>
<line x1="402" x2="402" y1="644.7" y2="645.9" stroke="#444" stroke-width="0.6"/>
<text x="402" y="651" font-size="4.6" text-anchor="middle" fill="#3a3a3a" style="stroke:#555;stroke-width:0.06px">24</text>
<line x1="413.5" x2="413.5" y1="644.7" y2="645.9" stroke="#444" stroke-width="0.6"/>
<text x="413.5" y="651" font-size="4.6" text-anchor="middle" fill="#3a3a3a" style="stroke:#555;stroke-width:0.06px">23</text>
<line x1="425" x2="425" y1="644.7" y2="645.9" stroke="#444" stroke-width="0.6"/>
<text x="425" y="651" font-size="4.6" text-anchor="middle" fill="#3a3a3a" style="stroke:#555;stroke-width:0.06px">22</text>
<line x1="436.5" x2="436.5" y1="644.7" y2="645.9" stroke="#444" stroke-width="0.6"/>
<text x="436.5" y="651" font-size="4.6" text-anchor="middle" fill="#3a3a3a" style="stroke:#555;stroke-width:0.06px">21</text>
<line x1="448" x2="448" y1="644.7" y2="645.9" stroke="#444" stroke-width="0.6"/>
<text x="448" y="651" font-size="4.6" text-anchor="middle" fill="#3a3a3a" style="stroke:#555;stroke-width:0.06px">20</text>
<line x1="459.5" x2="459.5" y1="644.7" y2="645.9" stroke="#444" stroke-width="0.6"/>
<text x="459.5" y="651" font-size="4.6" text-anchor="middle" fill="#3a3a3a" style="stroke:#555;stroke-width:0.06px">19</text>
<line x1="471" x2="471" y1="644.7" y2="645.9" stroke="#444" stroke-width="0.6"/>
<text x="471" y="651" font-size="4.6" text-anchor="middle" fill="#3a3a3a" style="stroke:#555;stroke-width:0.06px">18</text>
<line x1="482.5" x2="482.5" y1="644.7" y2="645.9" stroke="#444" stroke-width="0.6"/>
<text x="482.5" y="651" font-size="4.6" text-anchor="middle" fill="#3a3a3a" style="stroke:#555;stroke-width:0.06px">17</text>
<line x1="494" x2="494" y1="644.7" y2="645.9" stroke="#444" stroke-width="0.6"/>
<text x="494" y="651" font-size="4.6" text-anchor="middle" fill="#3a3a3a" style="stroke:#555;stroke-width:0.06px">16</text>
<line x1="505.5" x2="505.5" y1="644.7" y2="645.9" stroke="#444" stroke-width="0.6"/>
<text x="505.5" y="651" font-size="4.6" text-anchor="middle" fill="#3a3a3a" style="stroke:#555;stroke-width:0.06px">15</text>
<line x1="517" x2="517" y1="644.7" y2="645.9" stroke="#444" stroke-width="0.6"/>
<text x="517" y="651" font-size="4.6" text-anchor="middle" fill="#3a3a3a" style="stroke:#555;stroke-width:0.06px">14</text>
<line x1="528.5" x2="528.5" y1="644.7" y2="645.9" stroke="#444" stroke-width="0.6"/>
<text x="528.5" y="651" font-size="4.6" text-anchor="middle" fill="#3a3a3a" style="stroke:#555;stroke-width:0.06px">13</text>
<line x1="540" x2="540" y1="644.7" y2="645.9" stroke="#444" stroke-width="0.6"/>
<text x="540" y="651" font-size="4.6" text-anchor="middle" fill="#3a3a3a" style="stroke:#555;stroke-width:0.06px">12</text>
<line x1="551.5" x2="551.5" y1="644.7" y2="645.9" stroke="#444" stroke-width="0.6"/>
<text x="551.5" y="651" font-size="4.6" text-anchor="middle" fill="#3a3a3a" style="stroke:#555;stroke-width:0.06px">11</text>
<line x1="563" x2="563" y1="644.7" y2="645.9" stroke="#444" stroke-width="0.6"/>
<text x="563" y="651" font-size="4.6" text-anchor="middle" fill="#3a3a3a" style="stroke:#555;stroke-width:0.06px">10</text>
<line x1="574.5" x2="574.5" y1="644.7" y2="645.9" stroke="#444" stroke-width="0.6"/>
<text x="574.5" y="651" font-size="4.6" text-anchor="middle" fill="#3a3a3a" style="stroke:#555;stroke-width:0.06px">9</text>
<line x1="586" x2="586" y1="644.7" y2="645.9" stroke="#444" stroke-width="0.6"/>
<text x="586" y="651" font-size="4.6" text-anchor="middle" fill="#3a3a3a" style="stroke:#555;stroke-width:0.06px">8</text>
<line x1="597.5" x2="597.5" y1="644.7" y2="645.9" stroke="#444" stroke-width="0.6"/>
<text x="597.5" y="651" font-size="4.6" text-anchor="middle" fill="#3a3a3a" style="stroke:#555;stroke-width:0.06px">7</text>
<line x1="609" x2="609" y1="644.7" y2="645.9" stroke="#444" stroke-width="0.6"/>
<text x="609" y="651" font-size="4.6" text-anchor="middle" fill="#3a3a3a" style="stroke:#555;stroke-width:0.06px">6</text>
<line x1="620.5" x2="620.5" y1="644.7" y2="645.9" stroke="#444" stroke-width="0.6"/>
<text x="620.5" y="651" font-size="4.6" text-anchor="middle" fill="#3a3a3a" style="stroke:#555;stroke-width:0.06px">5</text>
<line x1="632" x2="632" y1="644.7" y2="645.9" stroke="#444" stroke-width="0.6"/>
<text x="632" y="651" font-size="4.6" text-anchor="middle" fill="#3a3a3a" style="stroke:#555;stroke-width:0.06px">4</text>
<line x1="643.5" x2="643.5" y1="644.7" y2="645.9" stroke="#444" stroke-width="0.6"/>
<text x="643.5" y="651" font-size="4.6" text-anchor="middle" fill="#3a3a3a" style="stroke:#555;stroke-width:0.06px">3</text>
<line x1="655" x2="655" y1="644.7" y2="645.9" stroke="#444" stroke-width="0.6"/>
<text x="655" y="651" font-size="4.6" text-anchor="middle" fill="#3a3a3a" style="stroke:#555;stroke-width:0.06px">2</text>
<line x1="666.5" x2="666.5" y1="644.7" y2="645.9" stroke="#444" stroke-width="0.6"/>
<text x="666.5" y="651" font-size="4.6" text-anchor="middle" fill="#3a3a3a" style="stroke:#555;stroke-width:0.06px">1</text>
<text x="534.05" y="660.5" font-size="5.6" text-anchor="middle" fill="#222">Month before death</text>
<text transform="translate(365.5,555.85) rotate(-90)" font-size="5.4" text-anchor="middle" fill="#222"><tspan x="0" y="0">Percentage of subjects with</tspan><tspan x="0" y="5.8">at least one hospitalization</tspan></text>
<text x="412.3" y="456.3" font-size="6.55" fill="#111">Hospitalizations by age among decedents from respiratory diseases, with change point</text>
<text x="415" y="463.5" font-size="6.55" fill="#111">for all respiratory decedents and for specific age groups (65-74, 75-84, 85-94, 95+)</text>
<text x="404.2" y="457.3" font-size="10.5" font-weight="bold" fill="#000">f</text>
<rect x="416.7" y="476.5" width="25.7" height="64.9" fill="#fff" stroke="#ececec" stroke-width="0.6"/>
<line x1="416.7" x2="416.7" y1="476.5" y2="541.4" stroke="#b0b0b0" stroke-width="0.7"/>
<text x="419.4" y="482.6" font-size="3.6" fill="#333" style="stroke:none">Age</text>
<rect x="419.4" y="485.3" width="8" height="8.3" fill="#87cefa" stroke="#222" stroke-width="0.5"/>
<text x="429.7" y="490.65" font-size="3.9" fill="#333" style="stroke:none">65-74</text>
<rect x="419.4" y="493.6" width="8" height="8.3" fill="#4169e1" stroke="#222" stroke-width="0.5"/>
<text x="429.7" y="498.95" font-size="3.9" fill="#333" style="stroke:none">75-84</text>
<rect x="419.4" y="501.9" width="8" height="8.3" fill="#6a5acd" stroke="#222" stroke-width="0.5"/>
<text x="429.7" y="507.25" font-size="3.9" fill="#333" style="stroke:none">85-94</text>
<rect x="419.4" y="510.2" width="8" height="8.3" fill="#00008b" stroke="#222" stroke-width="0.5"/>
<text x="429.7" y="515.55" font-size="3.9" fill="#333" style="stroke:none">95+</text>
<line x1="419.9" x2="426.4" y1="534.9" y2="534.9" stroke="#111" stroke-width="0.7" stroke-dasharray="2.6 1.5"/>
<text x="429.7" y="536.1" font-size="3.9" fill="#333" style="stroke:none">65+</text>
</svg></body></html>
